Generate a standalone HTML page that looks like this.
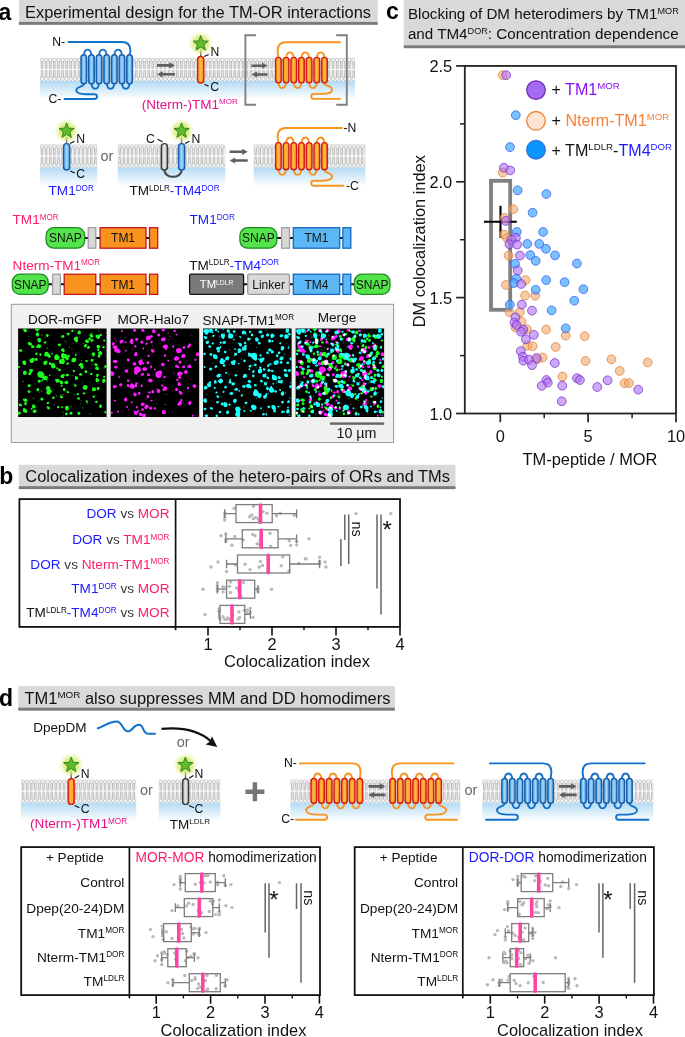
<!DOCTYPE html><html><head><meta charset="utf-8"><title>Figure</title>
<style>html,body{margin:0;padding:0;background:#fff}svg{display:block}text{font-family:'Liberation Sans', sans-serif}</style></head><body>
<svg width="685" height="1037" viewBox="0 0 685 1037">
<defs>
<pattern id="lip" x="0" y="0" width="4.1" height="23" patternUnits="userSpaceOnUse">
<rect width="4.1" height="23" fill="#fff"/>
<rect y="3.4" width="4.1" height="7.7" fill="#f1f1f1"/><rect y="11.9" width="4.1" height="7.7" fill="#f1f1f1"/>
<path d="M1.1 3.7 L1.6 11.0 M3.0 3.7 L2.5 11.0 M1.1 19.3 L1.6 12.0 M3.0 19.3 L2.5 12.0" stroke="#aaaaaa" stroke-width="0.75" fill="none"/>
<circle cx="2.05" cy="2.05" r="1.7" fill="#fff" stroke="#a2a2a2" stroke-width="0.6"/>
<circle cx="2.05" cy="20.95" r="1.7" fill="#fff" stroke="#a2a2a2" stroke-width="0.6"/>
</pattern>
<linearGradient id="cyt" x1="0" y1="0" x2="0" y2="1"><stop offset="0" stop-color="#b3daf4"/><stop offset="1" stop-color="#ffffff"/></linearGradient>
<linearGradient id="hB" x1="0" y1="0" x2="1" y2="0"><stop offset="0" stop-color="#3f9fe8"/><stop offset="0.5" stop-color="#a6d8fa"/><stop offset="1" stop-color="#3f9fe8"/></linearGradient>
<linearGradient id="hO" x1="0" y1="0" x2="1" y2="0"><stop offset="0" stop-color="#f78f1a"/><stop offset="0.5" stop-color="#feb945"/><stop offset="1" stop-color="#f78f1a"/></linearGradient>
<linearGradient id="hG" x1="0" y1="0" x2="1" y2="0"><stop offset="0" stop-color="#9a9a9a"/><stop offset="0.5" stop-color="#efefef"/><stop offset="1" stop-color="#9a9a9a"/></linearGradient>
<radialGradient id="glow"><stop offset="0" stop-color="#cfe65a" stop-opacity="1"/><stop offset="0.55" stop-color="#d9ec7c" stop-opacity="0.85"/><stop offset="1" stop-color="#e8f5a8" stop-opacity="0"/></radialGradient>
<filter id="bl" x="-10%" y="-10%" width="120%" height="120%"><feGaussianBlur stdDeviation="0.6"/></filter>
</defs>
<rect width="685" height="1037" fill="#fff"/>
<rect x="18.9" y="0" width="358.8" height="24.8" fill="#d9d9d9"/>
<rect x="18.9" y="21.900000000000002" width="358.8" height="2.9" fill="#7a7a7a"/>
<text x="-1.5" y="19.6" font-size="23" font-weight="bold" fill="#000">a</text>
<text x="25.1" y="18.0" font-size="16.4" text-anchor="start" font-weight="normal" fill="#111" ><tspan>Experimental design for the TM-OR interactions</tspan></text>
<rect x="40" y="80.7" width="315" height="19" fill="url(#cyt)"/>
<g transform="translate(40,57.9)"><rect x="0" y="0" width="315" height="23" fill="url(#lip)"/></g>
<path d="M68.5 42 H121.88000000000002 C127.4 42 130.4 44.5 130.4 50.5 C130.4 53.5 129.58 51.7 129.58 56.7 M83.8 81.7 V84.0 C83.8 87.0 76.2 86.1 76.2 90.2 C76.2 93.6 80.8 94.1 85.8 94.2 H94.4 C98.0 94.2 98.0 99.0 94.4 99.0 H64.5 M83.8 56.7 C83.8 47.3 91.43 47.3 91.43 56.7 M99.06 56.7 C99.06 47.3 106.69 47.3 106.69 56.7 M114.32 56.7 C114.32 47.3 121.95 47.3 121.95 56.7 M91.43 81.7 C91.43 91.1 99.06 91.1 99.06 81.7 M106.69 81.7 C106.69 91.1 114.32 91.1 114.32 81.7 M121.95 81.7 C121.95 91.1 129.58 91.1 129.58 81.7 " fill="none" stroke="#1172c9" stroke-width="1.9" stroke-linecap="round" stroke-linejoin="round"/>
<rect x="81.0" y="54.7" width="5.6" height="29.0" rx="2.8" ry="2.8" fill="url(#hB)" stroke="#1a5ca8" stroke-width="1.4"/>
<rect x="88.63000000000001" y="54.7" width="5.6" height="29.0" rx="2.8" ry="2.8" fill="url(#hB)" stroke="#1a5ca8" stroke-width="1.4"/>
<rect x="96.26" y="54.7" width="5.6" height="29.0" rx="2.8" ry="2.8" fill="url(#hB)" stroke="#1a5ca8" stroke-width="1.4"/>
<rect x="103.89" y="54.7" width="5.6" height="29.0" rx="2.8" ry="2.8" fill="url(#hB)" stroke="#1a5ca8" stroke-width="1.4"/>
<rect x="111.52" y="54.7" width="5.6" height="29.0" rx="2.8" ry="2.8" fill="url(#hB)" stroke="#1a5ca8" stroke-width="1.4"/>
<rect x="119.15" y="54.7" width="5.6" height="29.0" rx="2.8" ry="2.8" fill="url(#hB)" stroke="#1a5ca8" stroke-width="1.4"/>
<rect x="126.78000000000002" y="54.7" width="5.6" height="29.0" rx="2.8" ry="2.8" fill="url(#hB)" stroke="#1a5ca8" stroke-width="1.4"/>
<text x="52.3" y="46.0" font-size="12.2" text-anchor="start" font-weight="normal" fill="#111" ><tspan>N-</tspan></text>
<text x="48.4" y="103.0" font-size="12.2" text-anchor="start" font-weight="normal" fill="#111" ><tspan>C-</tspan></text>
<path d="M157 64.10000000000001 H169.4 V62.300000000000004 L175 65.4 L169.4 68.5 V66.7 H157 Z" fill="#5f5f5f"/>
<path d="M175 73.0 H162.6 V71.2 L157 74.3 L162.6 77.39999999999999 V75.6 H175 Z" fill="#5f5f5f"/>
<path d="M200.7 49 V58" stroke="#555" stroke-width="1.4"/>
<circle cx="200.7" cy="43.6" r="12.5" fill="url(#glow)"/>
<polygon points="200.70,35.60 202.67,40.88 208.31,41.13 203.90,44.64 205.40,50.07 200.70,46.96 196.00,50.07 197.50,44.64 193.09,41.13 198.73,40.88" fill="#63ba31" stroke="#237f16" stroke-width="0.9" stroke-linejoin="miter"/>
<rect x="197.6" y="56.5" width="6.2" height="26.5" rx="3.1" ry="3.1" fill="url(#hO)" stroke="#d41b12" stroke-width="1.4"/>
<path d="M204.2 56.6 L208.6 54.4 M204.4 84.2 L208.6 86.2" stroke="#111" stroke-width="1.1"/>
<text x="210.6" y="56.4" font-size="12.2" text-anchor="start" font-weight="normal" fill="#111" ><tspan>N</tspan></text>
<text x="210.2" y="91.4" font-size="12.2" text-anchor="start" font-weight="normal" fill="#111" ><tspan>C</tspan></text>
<text x="141.8" y="108.7" font-size="13.5" text-anchor="start" font-weight="normal" fill="#111" ><tspan fill="#e6108c">(Nterm-)TM1</tspan><tspan fill="#e6108c" font-size="8.1" dy="-4.46">MOR</tspan></text>
<path d="M256 35.2 H245.4 V104.8 H256" fill="none" stroke="#808080" stroke-width="1.9"/>
<path d="M336.2 35.2 H346.8 V104.8 H336.2" fill="none" stroke="#808080" stroke-width="1.9"/>
<path d="M251.5 64.4 H262.0 V62.6 L267.6 65.7 L262.0 68.8 V67.0 H251.5 Z" fill="#5f5f5f"/>
<path d="M267.6 73.2 H257.1 V71.4 L251.5 74.5 L257.1 77.6 V75.8 H267.6 Z" fill="#5f5f5f"/>
<path d="M340 42.3 H286.09999999999997 C280.6 42.3 277.6 44.8 277.6 50.8 C277.6 53.8 278.4 54.4 278.4 59.4 M324.48 80.9 V83.2 C324.48 86.4 332.1 85.4 332.1 89.7 C332.1 93.2 327.5 93.8 322.5 93.9 H313.9 C310.3 93.9 310.3 98.9 313.9 98.9 H340 M286.08 59.4 C286.08 50.0 293.76 50.0 293.76 59.4 M301.44 59.4 C301.44 50.0 309.12 50.0 309.12 59.4 M316.8 59.4 C316.8 50.0 324.48 50.0 324.48 59.4 M278.4 80.9 C278.4 90.3 286.08 90.3 286.08 80.9 M293.76 80.9 C293.76 90.3 301.44 90.3 301.44 80.9 M309.12 80.9 C309.12 90.3 316.8 90.3 316.8 80.9 " fill="none" stroke="#f7941d" stroke-width="1.9" stroke-linecap="round" stroke-linejoin="round"/>
<rect x="275.59999999999997" y="57.4" width="5.6" height="25.500000000000007" rx="2.8" ry="2.8" fill="url(#hO)" stroke="#d41b12" stroke-width="1.4"/>
<rect x="283.28" y="57.4" width="5.6" height="25.500000000000007" rx="2.8" ry="2.8" fill="url(#hO)" stroke="#d41b12" stroke-width="1.4"/>
<rect x="290.96" y="57.4" width="5.6" height="25.500000000000007" rx="2.8" ry="2.8" fill="url(#hO)" stroke="#d41b12" stroke-width="1.4"/>
<rect x="298.64" y="57.4" width="5.6" height="25.500000000000007" rx="2.8" ry="2.8" fill="url(#hO)" stroke="#d41b12" stroke-width="1.4"/>
<rect x="306.32" y="57.4" width="5.6" height="25.500000000000007" rx="2.8" ry="2.8" fill="url(#hO)" stroke="#d41b12" stroke-width="1.4"/>
<rect x="314.0" y="57.4" width="5.6" height="25.500000000000007" rx="2.8" ry="2.8" fill="url(#hO)" stroke="#d41b12" stroke-width="1.4"/>
<rect x="321.68" y="57.4" width="5.6" height="25.500000000000007" rx="2.8" ry="2.8" fill="url(#hO)" stroke="#d41b12" stroke-width="1.4"/>
<rect x="40" y="167.20000000000002" width="57.2" height="19" fill="url(#cyt)"/>
<g transform="translate(40,144.4)"><rect x="0" y="0" width="57.2" height="23" fill="url(#lip)"/></g>
<path d="M66.6 137 V145" stroke="#555" stroke-width="1.4"/>
<circle cx="66.6" cy="130.9" r="12.5" fill="url(#glow)"/>
<polygon points="66.60,122.90 68.57,128.18 74.21,128.43 69.80,131.94 71.30,137.37 66.60,134.26 61.90,137.37 63.40,131.94 58.99,128.43 64.63,128.18" fill="#63ba31" stroke="#237f16" stroke-width="0.9" stroke-linejoin="miter"/>
<rect x="63.49999999999999" y="143.6" width="6.2" height="26.400000000000006" rx="3.1" ry="3.1" fill="url(#hB)" stroke="#1a5ca8" stroke-width="1.4"/>
<path d="M70 143.5 L74.5 141.3 M70.2 171 L74.8 173" stroke="#111" stroke-width="1.1"/>
<text x="76.3" y="142.8" font-size="12.2" text-anchor="start" font-weight="normal" fill="#111" ><tspan>N</tspan></text>
<text x="76.3" y="177.8" font-size="12.2" text-anchor="start" font-weight="normal" fill="#111" ><tspan>C</tspan></text>
<text x="100.5" y="161" font-size="14.5" text-anchor="start" font-weight="normal" fill="#666" ><tspan>or</tspan></text>
<text x="48.6" y="195.2" font-size="13.55" text-anchor="start" font-weight="normal" fill="#111" ><tspan fill="#1a1aff">TM1</tspan><tspan fill="#1a1aff" font-size="8.13" dy="-4.47">DOR</tspan></text>
<rect x="117.7" y="167.20000000000002" width="107.60000000000001" height="19" fill="url(#cyt)"/>
<g transform="translate(117.7,144.4)"><rect x="0" y="0" width="107.60000000000001" height="23" fill="url(#lip)"/></g>
<path d="M164.4 168 V170 C164.4 179 181.6 179 181.6 170 V168" fill="none" stroke="#4a4a4a" stroke-width="2"/>
<path d="M181.6 137 V145" stroke="#555" stroke-width="1.4"/>
<circle cx="181.6" cy="130.9" r="12.5" fill="url(#glow)"/>
<polygon points="181.60,122.90 183.57,128.18 189.21,128.43 184.80,131.94 186.30,137.37 181.60,134.26 176.90,137.37 178.40,131.94 173.99,128.43 179.63,128.18" fill="#63ba31" stroke="#237f16" stroke-width="0.9" stroke-linejoin="miter"/>
<rect x="161.3" y="143.6" width="6.2" height="26.400000000000006" rx="3.1" ry="3.1" fill="url(#hG)" stroke="#3a3a3a" stroke-width="1.4"/>
<rect x="178.5" y="143.6" width="6.2" height="26.400000000000006" rx="3.1" ry="3.1" fill="url(#hB)" stroke="#1a5ca8" stroke-width="1.4"/>
<path d="M157.5 139.2 L162.6 141.8 M185 143.5 L189.5 141.3" stroke="#111" stroke-width="1.1"/>
<text x="146" y="142.8" font-size="12.2" text-anchor="start" font-weight="normal" fill="#111" ><tspan>C</tspan></text>
<text x="191.5" y="142.8" font-size="12.2" text-anchor="start" font-weight="normal" fill="#111" ><tspan>N</tspan></text>
<text x="129.5" y="195.2" font-size="13.55" text-anchor="start" font-weight="normal" fill="#111" ><tspan fill="#111">TM</tspan><tspan fill="#111" font-size="8.13" dy="-4.47">LDLR</tspan><tspan fill="#1a1aff" dy="4.47">-</tspan><tspan fill="#1a1aff">TM4</tspan><tspan fill="#1a1aff" font-size="8.13" dy="-4.47">DOR</tspan></text>
<path d="M229.6 150.5 H242.1 V148.70000000000002 L247.7 151.8 L242.1 154.9 V153.10000000000002 H229.6 Z" fill="#5f5f5f"/>
<path d="M247.7 159.2 H235.2 V157.4 L229.6 160.5 L235.2 163.6 V161.8 H247.7 Z" fill="#5f5f5f"/>
<rect x="253.6" y="167.20000000000002" width="111.79999999999998" height="19" fill="url(#cyt)"/>
<g transform="translate(253.6,144.4)"><rect x="0" y="0" width="111.79999999999998" height="23" fill="url(#lip)"/></g>
<path d="M342 128 H286.09999999999997 C280.6 128 277.6 130.6 277.6 136.5 C277.6 139.5 278.4 139.6 278.4 144.6 M324.48 167.8 V170.10000000000002 C324.48 173.3 332.1 172.3 332.1 176.6 C332.1 180.1 327.5 180.7 322.5 180.8 H313.9 C310.3 180.8 310.3 185.8 313.9 185.8 H343.5 M286.08 144.6 C286.08 135.2 293.76 135.2 293.76 144.6 M301.44 144.6 C301.44 135.2 309.12 135.2 309.12 144.6 M316.8 144.6 C316.8 135.2 324.48 135.2 324.48 144.6 M278.4 167.8 C278.4 177.2 286.08 177.2 286.08 167.8 M293.76 167.8 C293.76 177.2 301.44 177.2 301.44 167.8 M309.12 167.8 C309.12 177.2 316.8 177.2 316.8 167.8 " fill="none" stroke="#f7941d" stroke-width="1.9" stroke-linecap="round" stroke-linejoin="round"/>
<rect x="275.59999999999997" y="142.6" width="5.6" height="27.200000000000017" rx="2.8" ry="2.8" fill="url(#hO)" stroke="#d41b12" stroke-width="1.4"/>
<rect x="283.28" y="142.6" width="5.6" height="27.200000000000017" rx="2.8" ry="2.8" fill="url(#hO)" stroke="#d41b12" stroke-width="1.4"/>
<rect x="290.96" y="142.6" width="5.6" height="27.200000000000017" rx="2.8" ry="2.8" fill="url(#hO)" stroke="#d41b12" stroke-width="1.4"/>
<rect x="298.64" y="142.6" width="5.6" height="27.200000000000017" rx="2.8" ry="2.8" fill="url(#hO)" stroke="#d41b12" stroke-width="1.4"/>
<rect x="306.32" y="142.6" width="5.6" height="27.200000000000017" rx="2.8" ry="2.8" fill="url(#hO)" stroke="#d41b12" stroke-width="1.4"/>
<rect x="314.0" y="142.6" width="5.6" height="27.200000000000017" rx="2.8" ry="2.8" fill="url(#hO)" stroke="#d41b12" stroke-width="1.4"/>
<rect x="321.68" y="142.6" width="5.6" height="27.200000000000017" rx="2.8" ry="2.8" fill="url(#hO)" stroke="#d41b12" stroke-width="1.4"/>
<text x="343.5" y="132" font-size="12.2" text-anchor="start" font-weight="normal" fill="#111" ><tspan>-N</tspan></text>
<text x="346" y="189.6" font-size="12.2" text-anchor="start" font-weight="normal" fill="#111" ><tspan>-C</tspan></text>
<text x="12.6" y="224.0" font-size="13.55" text-anchor="start" font-weight="normal" fill="#111" ><tspan fill="#ff1a6c">TM1</tspan><tspan fill="#ff1a6c" font-size="8.13" dy="-4.47">MOR</tspan></text>
<path d="M84 238 H101" stroke="#111" stroke-width="2"/>
<path d="M145 238 H150" stroke="#111" stroke-width="2"/>
<rect x="46.1" y="227.7" width="38.6" height="20.5" rx="7.8" fill="#52e44a" stroke="#1f8a1f" stroke-width="1.3"/>
<text x="65.4" y="242.26999999999998" font-size="12" text-anchor="middle" font-weight="normal" fill="#111" ><tspan>SNAP</tspan></text>
<rect x="88.2" y="227.7" width="7.599999999999994" height="20.5" rx="0" fill="#d8d8d8" stroke="#a0a0a0" stroke-width="1.3"/>
<rect x="100.1" y="227.7" width="45.900000000000006" height="20.5" rx="0" fill="#f7931e" stroke="#c4161c" stroke-width="1.3"/>
<text x="123.05" y="242.26999999999998" font-size="12" text-anchor="middle" font-weight="normal" fill="#111" ><tspan>TM1</tspan></text>
<rect x="149.5" y="227.7" width="8.199999999999989" height="20.5" rx="0" fill="#f7931e" stroke="#c4161c" stroke-width="1.3"/>
<text x="12.6" y="269.9" font-size="13.55" text-anchor="start" font-weight="normal" fill="#111" ><tspan fill="#ff1a6c">Nterm-TM1</tspan><tspan fill="#ff1a6c" font-size="8.13" dy="-4.47">MOR</tspan></text>
<path d="M48 284.3 H101" stroke="#111" stroke-width="2"/>
<path d="M145 284.3 H150" stroke="#111" stroke-width="2"/>
<rect x="12.3" y="274.2" width="35.900000000000006" height="20.19999999999999" rx="7.8" fill="#52e44a" stroke="#1f8a1f" stroke-width="1.3"/>
<text x="30.25" y="288.61999999999995" font-size="12" text-anchor="middle" font-weight="normal" fill="#111" ><tspan>SNAP</tspan></text>
<rect x="52.6" y="274.2" width="7.799999999999997" height="20.19999999999999" rx="0" fill="#d8d8d8" stroke="#a0a0a0" stroke-width="1.3"/>
<rect x="64.2" y="274.2" width="31.599999999999994" height="20.19999999999999" rx="0" fill="#f7931e" stroke="#c4161c" stroke-width="1.3"/>
<rect x="100.1" y="274.2" width="45.900000000000006" height="20.19999999999999" rx="0" fill="#f7931e" stroke="#c4161c" stroke-width="1.3"/>
<text x="123.05" y="288.61999999999995" font-size="12" text-anchor="middle" font-weight="normal" fill="#111" ><tspan>TM1</tspan></text>
<rect x="149.5" y="274.2" width="8.199999999999989" height="20.19999999999999" rx="0" fill="#f7931e" stroke="#c4161c" stroke-width="1.3"/>
<text x="189.6" y="224.0" font-size="13.55" text-anchor="start" font-weight="normal" fill="#111" ><tspan fill="#1a1aff">TM1</tspan><tspan fill="#1a1aff" font-size="8.13" dy="-4.47">DOR</tspan></text>
<path d="M276 238 H294" stroke="#111" stroke-width="2"/>
<path d="M339 238 H343.5" stroke="#111" stroke-width="2"/>
<rect x="239.9" y="227.7" width="36.99999999999997" height="20.5" rx="7.8" fill="#52e44a" stroke="#1f8a1f" stroke-width="1.3"/>
<text x="258.4" y="242.26999999999998" font-size="12" text-anchor="middle" font-weight="normal" fill="#111" ><tspan>SNAP</tspan></text>
<rect x="281.6" y="227.7" width="7.899999999999977" height="20.5" rx="0" fill="#d8d8d8" stroke="#a0a0a0" stroke-width="1.3"/>
<rect x="293.3" y="227.7" width="46.39999999999998" height="20.5" rx="0" fill="#5cb8f4" stroke="#1668c0" stroke-width="1.3"/>
<text x="316.5" y="242.26999999999998" font-size="12" text-anchor="middle" font-weight="normal" fill="#111" ><tspan>TM1</tspan></text>
<rect x="342.9" y="227.7" width="7.900000000000034" height="20.5" rx="0" fill="#5cb8f4" stroke="#1668c0" stroke-width="1.3"/>
<text x="189.2" y="269.9" font-size="13.55" text-anchor="start" font-weight="normal" fill="#111" ><tspan fill="#111">TM</tspan><tspan fill="#111" font-size="8.13" dy="-4.47">LDLR</tspan><tspan fill="#1a1aff" dy="4.47">-</tspan><tspan fill="#1a1aff">TM4</tspan><tspan fill="#1a1aff" font-size="8.13" dy="-4.47">DOR</tspan></text>
<path d="M243 284.3 H355" stroke="#111" stroke-width="2"/>
<rect x="189.6" y="274.2" width="54.0" height="20.19999999999999" rx="1.5" fill="#7a7a7a" stroke="#111" stroke-width="1.3"/>
<text x="216.6" y="288.36799999999994" font-size="11.3" text-anchor="middle" font-weight="normal" fill="#fff" ><tspan fill="#fff">TM</tspan><tspan fill="#fff" font-size="6.78" dy="-3.73">LDLR</tspan></text>
<rect x="247.7" y="274.2" width="41.80000000000001" height="20.19999999999999" rx="1.5" fill="#d9d9d9" stroke="#999" stroke-width="1.3"/>
<text x="268.6" y="288.61999999999995" font-size="12" text-anchor="middle" font-weight="normal" fill="#111" ><tspan>Linker</tspan></text>
<rect x="293.3" y="274.2" width="46.39999999999998" height="20.19999999999999" rx="0" fill="#5cb8f4" stroke="#1668c0" stroke-width="1.3"/>
<text x="316.5" y="288.61999999999995" font-size="12" text-anchor="middle" font-weight="normal" fill="#111" ><tspan>TM4</tspan></text>
<rect x="342.9" y="274.2" width="7.900000000000034" height="20.19999999999999" rx="0" fill="#5cb8f4" stroke="#1668c0" stroke-width="1.3"/>
<rect x="354.3" y="274.2" width="35.69999999999999" height="20.19999999999999" rx="7.8" fill="#52e44a" stroke="#1f8a1f" stroke-width="1.3"/>
<text x="372.15" y="288.61999999999995" font-size="12" text-anchor="middle" font-weight="normal" fill="#111" ><tspan>SNAP</tspan></text>
<rect x="11.3" y="304.3" width="382.3" height="138.2" fill="#f0f0f0" stroke="#9a9a9a" stroke-width="1"/>
<text x="64.9" y="324.3" font-size="13.6" text-anchor="middle" font-weight="normal" fill="#111" ><tspan>DOR-mGFP</tspan></text>
<text x="153.3" y="324.3" font-size="13.6" text-anchor="middle" font-weight="normal" fill="#111" ><tspan>MOR-Halo7</tspan></text>
<text x="202.5" y="324.5" font-size="13.6" text-anchor="start" font-weight="normal" fill="#111" ><tspan fill="#111">SNAPf-TM1</tspan><tspan fill="#111" font-size="8.16" dy="-4.49">MOR</tspan></text>
<text x="337" y="321.8" font-size="13.6" text-anchor="middle" font-weight="normal" fill="#111" ><tspan>Merge</tspan></text>
<rect x="330" y="422.4" width="54.2" height="2.4" fill="#666"/>
<text x="356.5" y="438" font-size="14.3" text-anchor="middle" font-weight="normal" fill="#111" ><tspan>10 µm</tspan></text>
<rect x="18.1" y="328.5" width="88.5" height="88.5" fill="#000"/>
<rect x="110.7" y="328.5" width="88.5" height="88.5" fill="#000"/>
<rect x="203.1" y="328.5" width="88.5" height="88.5" fill="#000"/>
<rect x="295.6" y="328.5" width="88.5" height="88.5" fill="#000"/>
<defs><g id="bG" fill="#1dff1d" filter="url(#bl)"><circle cx="6.8" cy="1.5" r="1.71"/><circle cx="7.8" cy="2.6" r="1.10"/><circle cx="6.7" cy="2.8" r="0.96"/><circle cx="19.0" cy="0.7" r="1.71"/><circle cx="18.1" cy="-0.5" r="0.81"/><circle cx="20.5" cy="0.9" r="0.95"/><circle cx="54.3" cy="2.4" r="1.14"/><circle cx="54.4" cy="1.8" r="0.64"/><circle cx="61.1" cy="4.2" r="1.71"/><circle cx="60.9" cy="3.1" r="1.17"/><circle cx="61.9" cy="3.7" r="0.78"/><circle cx="50.2" cy="5.6" r="1.43"/><circle cx="49.0" cy="5.2" r="0.78"/><circle cx="19.3" cy="5.8" r="1.71"/><circle cx="19.5" cy="7.0" r="0.78"/><circle cx="19.5" cy="7.1" r="0.98"/><circle cx="29.2" cy="6.9" r="1.43"/><circle cx="29.3" cy="7.8" r="0.72"/><circle cx="44.8" cy="7.9" r="1.43"/><circle cx="43.9" cy="8.1" r="0.65"/><circle cx="57.7" cy="10.6" r="2.14"/><circle cx="58.6" cy="9.2" r="1.31"/><circle cx="58.5" cy="12.5" r="1.42"/><circle cx="73.3" cy="7.2" r="1.71"/><circle cx="74.2" cy="8.0" r="1.08"/><circle cx="72.9" cy="5.7" r="0.95"/><circle cx="80.1" cy="8.6" r="2.00"/><circle cx="80.9" cy="7.1" r="1.05"/><circle cx="78.6" cy="7.6" r="1.32"/><circle cx="82.8" cy="6.5" r="1.14"/><circle cx="81.9" cy="6.5" r="0.52"/><circle cx="21.0" cy="11.3" r="1.85"/><circle cx="21.1" cy="12.9" r="1.03"/><circle cx="21.7" cy="12.5" r="1.16"/><circle cx="69.2" cy="12.9" r="1.71"/><circle cx="68.7" cy="11.8" r="0.96"/><circle cx="67.8" cy="12.8" r="0.99"/><circle cx="74.0" cy="11.9" r="1.43"/><circle cx="73.2" cy="12.6" r="0.65"/><circle cx="11.5" cy="15.3" r="1.71"/><circle cx="12.9" cy="15.7" r="1.19"/><circle cx="10.5" cy="14.7" r="0.84"/><circle cx="27.2" cy="14.0" r="1.14"/><circle cx="26.1" cy="14.0" r="0.73"/><circle cx="41.4" cy="16.4" r="1.43"/><circle cx="40.2" cy="16.1" r="0.72"/><circle cx="14.9" cy="18.3" r="1.43"/><circle cx="13.6" cy="18.2" r="0.85"/><circle cx="20.8" cy="17.8" r="2.00"/><circle cx="19.5" cy="18.1" r="1.17"/><circle cx="21.8" cy="17.5" r="1.29"/><circle cx="67.2" cy="17.4" r="1.43"/><circle cx="67.8" cy="16.2" r="0.91"/><circle cx="70.3" cy="19.1" r="1.43"/><circle cx="70.7" cy="18.1" r="0.84"/><circle cx="80.5" cy="18.1" r="1.71"/><circle cx="79.6" cy="18.5" r="1.14"/><circle cx="79.5" cy="17.6" r="0.99"/><circle cx="85.5" cy="18.7" r="1.14"/><circle cx="84.7" cy="18.8" r="0.61"/><circle cx="2.7" cy="22.1" r="1.43"/><circle cx="1.6" cy="21.9" r="0.86"/><circle cx="44.8" cy="21.4" r="1.71"/><circle cx="43.9" cy="21.7" r="0.87"/><circle cx="45.4" cy="22.7" r="1.14"/><circle cx="80.1" cy="21.4" r="1.14"/><circle cx="80.4" cy="20.5" r="0.75"/><circle cx="75.3" cy="25.5" r="1.71"/><circle cx="75.3" cy="27.0" r="1.06"/><circle cx="76.2" cy="26.0" r="0.78"/><circle cx="82.1" cy="24.8" r="2.00"/><circle cx="82.2" cy="23.5" r="0.95"/><circle cx="81.2" cy="23.9" r="0.93"/><circle cx="80.8" cy="27.6" r="1.43"/><circle cx="81.4" cy="28.5" r="0.70"/><circle cx="22.4" cy="25.9" r="1.14"/><circle cx="22.3" cy="26.9" r="0.64"/><circle cx="28.5" cy="25.5" r="2.28"/><circle cx="27.8" cy="27.0" r="1.04"/><circle cx="27.3" cy="26.6" r="1.13"/><circle cx="30.5" cy="26.9" r="1.71"/><circle cx="31.8" cy="27.9" r="0.99"/><circle cx="30.9" cy="28.2" r="1.12"/><circle cx="38.7" cy="28.9" r="2.57"/><circle cx="40.1" cy="29.1" r="1.25"/><circle cx="38.4" cy="27.4" r="1.61"/><circle cx="45.5" cy="27.6" r="2.57"/><circle cx="44.6" cy="25.8" r="1.30"/><circle cx="47.7" cy="27.2" r="1.49"/><circle cx="48.9" cy="29.2" r="2.00"/><circle cx="49.1" cy="30.8" r="1.10"/><circle cx="47.7" cy="28.6" r="1.21"/><circle cx="43.4" cy="33.0" r="2.57"/><circle cx="45.0" cy="33.6" r="1.78"/><circle cx="44.7" cy="31.8" r="1.71"/><circle cx="57.7" cy="26.2" r="0.90"/><circle cx="57.4" cy="27.0" r="0.57"/><circle cx="55.7" cy="31.6" r="2.28"/><circle cx="54.4" cy="32.4" r="1.03"/><circle cx="56.6" cy="30.7" r="1.49"/><circle cx="13.6" cy="32.3" r="2.28"/><circle cx="15.3" cy="31.9" r="1.12"/><circle cx="15.0" cy="30.7" r="1.43"/><circle cx="18.3" cy="31.0" r="1.43"/><circle cx="17.3" cy="30.9" r="0.77"/><circle cx="6.1" cy="34.1" r="2.00"/><circle cx="6.6" cy="35.6" r="1.11"/><circle cx="6.5" cy="35.2" r="1.23"/><circle cx="27.2" cy="34.3" r="2.00"/><circle cx="26.7" cy="35.8" r="1.06"/><circle cx="28.4" cy="33.0" r="0.91"/><circle cx="31.9" cy="35.0" r="1.14"/><circle cx="32.1" cy="35.8" r="0.79"/><circle cx="35.3" cy="37.7" r="2.28"/><circle cx="35.6" cy="36.2" r="1.15"/><circle cx="34.4" cy="35.9" r="1.56"/><circle cx="49.6" cy="35.0" r="1.14"/><circle cx="49.0" cy="35.9" r="0.71"/><circle cx="63.1" cy="36.4" r="2.00"/><circle cx="61.3" cy="36.6" r="1.02"/><circle cx="62.9" cy="35.2" r="0.98"/><circle cx="63.8" cy="39.1" r="1.43"/><circle cx="64.6" cy="38.6" r="0.91"/><circle cx="68.6" cy="32.7" r="1.14"/><circle cx="67.7" cy="32.1" r="0.62"/><circle cx="74.0" cy="31.6" r="1.43"/><circle cx="73.5" cy="32.4" r="0.95"/><circle cx="78.1" cy="36.4" r="1.43"/><circle cx="77.0" cy="35.6" r="0.96"/><circle cx="78.7" cy="39.8" r="1.71"/><circle cx="79.6" cy="40.8" r="0.81"/><circle cx="79.7" cy="40.0" r="1.14"/><circle cx="87.6" cy="38.1" r="1.43"/><circle cx="87.9" cy="36.9" r="0.76"/><circle cx="0.7" cy="38.4" r="1.14"/><circle cx="-0.1" cy="37.8" r="0.62"/><circle cx="41.4" cy="41.4" r="1.43"/><circle cx="40.6" cy="41.0" r="0.67"/><circle cx="12.9" cy="42.2" r="1.71"/><circle cx="12.7" cy="43.8" r="1.01"/><circle cx="14.0" cy="41.7" r="0.89"/><circle cx="6.8" cy="44.5" r="2.00"/><circle cx="7.2" cy="42.8" r="0.90"/><circle cx="6.2" cy="43.5" r="0.96"/><circle cx="11.5" cy="45.2" r="1.43"/><circle cx="12.1" cy="44.7" r="0.73"/><circle cx="22.4" cy="45.9" r="3.14"/><circle cx="24.6" cy="45.7" r="1.50"/><circle cx="23.4" cy="47.6" r="1.99"/><circle cx="26.5" cy="49.3" r="2.28"/><circle cx="28.1" cy="50.5" r="1.24"/><circle cx="28.5" cy="48.9" r="1.19"/><circle cx="55.7" cy="42.5" r="1.14"/><circle cx="55.6" cy="43.3" r="0.54"/><circle cx="67.9" cy="43.2" r="1.43"/><circle cx="67.4" cy="42.5" r="0.65"/><circle cx="62.4" cy="45.9" r="1.43"/><circle cx="63.4" cy="45.8" r="0.85"/><circle cx="73.3" cy="45.5" r="1.14"/><circle cx="72.6" cy="45.7" r="0.53"/><circle cx="44.1" cy="47.7" r="1.71"/><circle cx="45.5" cy="46.8" r="1.18"/><circle cx="45.0" cy="48.4" r="1.03"/><circle cx="48.9" cy="46.6" r="1.43"/><circle cx="50.0" cy="46.4" r="0.89"/><circle cx="58.4" cy="49.6" r="1.71"/><circle cx="57.8" cy="48.6" r="1.00"/><circle cx="58.0" cy="50.6" r="0.80"/><circle cx="79.4" cy="46.6" r="1.43"/><circle cx="79.2" cy="47.9" r="0.80"/><circle cx="79.4" cy="51.7" r="1.71"/><circle cx="78.6" cy="50.6" r="1.17"/><circle cx="78.5" cy="52.5" r="0.91"/><circle cx="85.9" cy="52.0" r="1.71"/><circle cx="85.3" cy="53.4" r="1.15"/><circle cx="85.6" cy="53.1" r="1.00"/><circle cx="39.4" cy="52.3" r="2.00"/><circle cx="38.0" cy="51.5" r="1.02"/><circle cx="40.7" cy="52.4" r="0.93"/><circle cx="43.4" cy="54.0" r="1.71"/><circle cx="42.5" cy="53.7" r="0.80"/><circle cx="42.7" cy="53.2" r="1.11"/><circle cx="48.5" cy="54.0" r="1.71"/><circle cx="46.9" cy="54.1" r="0.84"/><circle cx="47.0" cy="54.0" r="0.80"/><circle cx="21.0" cy="52.7" r="1.43"/><circle cx="21.9" cy="52.4" r="0.92"/><circle cx="10.9" cy="57.2" r="1.43"/><circle cx="12.1" cy="57.0" r="0.76"/><circle cx="29.9" cy="59.5" r="2.00"/><circle cx="31.0" cy="60.4" r="1.36"/><circle cx="29.4" cy="61.2" r="0.97"/><circle cx="19.7" cy="61.2" r="1.43"/><circle cx="20.4" cy="60.8" r="0.75"/><circle cx="30.5" cy="63.9" r="2.28"/><circle cx="32.2" cy="62.8" r="1.54"/><circle cx="31.6" cy="62.3" r="1.42"/><circle cx="10.9" cy="63.1" r="1.43"/><circle cx="11.3" cy="64.1" r="0.70"/><circle cx="46.2" cy="61.2" r="1.43"/><circle cx="45.9" cy="60.1" r="0.73"/><circle cx="49.6" cy="63.5" r="1.14"/><circle cx="50.5" cy="64.0" r="0.74"/><circle cx="57.4" cy="57.2" r="1.14"/><circle cx="56.6" cy="56.9" r="0.76"/><circle cx="67.2" cy="58.8" r="2.28"/><circle cx="65.7" cy="59.3" r="1.22"/><circle cx="67.1" cy="60.1" r="1.39"/><circle cx="76.0" cy="60.8" r="2.00"/><circle cx="74.7" cy="61.6" r="0.93"/><circle cx="75.3" cy="61.8" r="0.96"/><circle cx="80.1" cy="59.9" r="1.43"/><circle cx="80.0" cy="61.1" r="0.78"/><circle cx="59.7" cy="65.6" r="1.14"/><circle cx="59.0" cy="66.1" r="0.58"/><circle cx="65.8" cy="64.9" r="1.14"/><circle cx="66.7" cy="64.9" r="0.66"/><circle cx="43.4" cy="68.6" r="1.43"/><circle cx="42.8" cy="67.7" r="0.89"/><circle cx="23.8" cy="70.7" r="1.43"/><circle cx="23.7" cy="69.8" r="0.82"/><circle cx="7.5" cy="71.7" r="1.71"/><circle cx="6.4" cy="71.8" r="0.95"/><circle cx="6.0" cy="71.1" r="1.16"/><circle cx="7.5" cy="75.1" r="1.43"/><circle cx="7.3" cy="76.2" r="0.66"/><circle cx="2.0" cy="76.4" r="1.43"/><circle cx="3.0" cy="76.9" r="0.95"/><circle cx="15.6" cy="77.5" r="1.71"/><circle cx="16.4" cy="78.8" r="1.15"/><circle cx="15.1" cy="78.8" r="1.13"/><circle cx="29.9" cy="74.4" r="1.14"/><circle cx="29.2" cy="75.1" r="0.72"/><circle cx="30.5" cy="79.6" r="1.43"/><circle cx="29.5" cy="78.8" r="0.96"/><circle cx="40.0" cy="78.7" r="1.14"/><circle cx="40.9" cy="78.5" r="0.56"/><circle cx="48.9" cy="79.6" r="2.00"/><circle cx="48.9" cy="80.8" r="1.18"/><circle cx="48.9" cy="78.4" r="1.24"/><circle cx="44.1" cy="78.9" r="0.90"/><circle cx="44.0" cy="78.3" r="0.52"/><circle cx="68.6" cy="72.8" r="1.14"/><circle cx="69.0" cy="73.6" r="0.52"/><circle cx="78.1" cy="73.4" r="1.14"/><circle cx="79.1" cy="73.3" r="0.69"/><circle cx="82.4" cy="77.5" r="1.43"/><circle cx="82.3" cy="78.8" r="0.98"/><circle cx="6.8" cy="81.9" r="2.00"/><circle cx="7.9" cy="83.2" r="1.32"/><circle cx="5.9" cy="80.5" r="1.12"/><circle cx="16.3" cy="82.9" r="1.71"/><circle cx="17.7" cy="82.2" r="0.93"/><circle cx="16.7" cy="81.8" r="0.84"/><circle cx="0.7" cy="84.6" r="1.71"/><circle cx="0.2" cy="85.5" r="1.16"/><circle cx="1.7" cy="84.3" r="1.03"/><circle cx="52.9" cy="84.8" r="1.43"/><circle cx="52.2" cy="85.3" r="0.75"/><circle cx="60.7" cy="84.8" r="1.43"/><circle cx="60.7" cy="86.1" r="0.64"/><circle cx="13.6" cy="80.2" r="0.90"/><circle cx="13.8" cy="80.8" r="0.41"/><circle cx="87.6" cy="83.9" r="1.14"/><circle cx="86.9" cy="83.3" r="0.75"/><circle cx="18.3" cy="25.2" r="1.18"/><circle cx="24.2" cy="51.8" r="0.98"/><circle cx="60.5" cy="70.0" r="1.37"/><circle cx="86.2" cy="48.3" r="1.14"/><circle cx="75.7" cy="68.1" r="1.20"/><circle cx="33.9" cy="25.1" r="0.88"/><circle cx="71.5" cy="10.4" r="1.32"/><circle cx="48.3" cy="85.4" r="1.33"/><circle cx="86.2" cy="12.1" r="1.15"/><circle cx="50.7" cy="27.5" r="1.15"/><circle cx="31.6" cy="46.8" r="0.80"/><circle cx="39.1" cy="39.8" r="1.01"/><circle cx="35.3" cy="69.3" r="1.28"/><circle cx="43.6" cy="57.3" r="1.06"/><circle cx="18.0" cy="0.3" r="0.99"/><circle cx="52.9" cy="78.0" r="0.83" opacity="0.45"/><circle cx="45.2" cy="87.4" r="0.68" opacity="0.45"/><circle cx="73.9" cy="36.2" r="0.80" opacity="0.45"/><circle cx="87.4" cy="27.0" r="0.57" opacity="0.45"/><circle cx="54.9" cy="47.0" r="0.64" opacity="0.45"/><circle cx="0.3" cy="34.4" r="0.67" opacity="0.45"/><circle cx="35.9" cy="76.2" r="0.73" opacity="0.45"/><circle cx="64.9" cy="79.5" r="0.80" opacity="0.45"/><circle cx="43.6" cy="66.0" r="0.76" opacity="0.45"/><circle cx="57.4" cy="55.7" r="0.66" opacity="0.45"/><circle cx="55.7" cy="56.1" r="0.87" opacity="0.45"/><circle cx="69.2" cy="74.9" r="0.81" opacity="0.45"/><circle cx="72.2" cy="53.6" r="0.64" opacity="0.45"/><circle cx="23.4" cy="62.7" r="0.85" opacity="0.45"/><circle cx="48.2" cy="13.5" r="0.83" opacity="0.45"/><circle cx="42.9" cy="41.3" r="0.52" opacity="0.45"/><circle cx="45.2" cy="65.9" r="0.67" opacity="0.45"/><circle cx="31.4" cy="58.1" r="0.51" opacity="0.45"/><circle cx="44.9" cy="83.7" r="0.78" opacity="0.45"/><circle cx="35.6" cy="61.0" r="0.74" opacity="0.45"/><circle cx="18.5" cy="18.4" r="0.85" opacity="0.45"/><circle cx="23.8" cy="6.6" r="0.83" opacity="0.45"/><circle cx="46.3" cy="32.6" r="0.70" opacity="0.45"/><circle cx="65.2" cy="14.9" r="0.76" opacity="0.45"/><circle cx="63.1" cy="72.1" r="0.61" opacity="0.45"/><circle cx="54.0" cy="20.5" r="0.72" opacity="0.45"/><circle cx="15.3" cy="69.9" r="0.85" opacity="0.45"/><circle cx="29.2" cy="19.7" r="0.89" opacity="0.45"/><circle cx="62.5" cy="74.7" r="0.51" opacity="0.45"/><circle cx="79.6" cy="55.1" r="0.63" opacity="0.45"/><circle cx="38.2" cy="67.4" r="0.81" opacity="0.45"/><circle cx="16.8" cy="55.4" r="0.57" opacity="0.45"/><circle cx="86.1" cy="39.3" r="0.87" opacity="0.45"/><circle cx="64.4" cy="53.7" r="0.60" opacity="0.45"/><circle cx="46.6" cy="12.3" r="0.56" opacity="0.45"/><circle cx="63.3" cy="32.0" r="0.80" opacity="0.45"/><circle cx="21.3" cy="63.6" r="0.79" opacity="0.45"/><circle cx="27.0" cy="9.4" r="0.66" opacity="0.45"/><circle cx="43.6" cy="8.8" r="0.57" opacity="0.45"/><circle cx="4.9" cy="52.9" r="0.86" opacity="0.45"/><circle cx="19.2" cy="3.1" r="0.78" opacity="0.45"/><circle cx="72.1" cy="85.3" r="0.75" opacity="0.45"/><circle cx="30.3" cy="74.2" r="0.55" opacity="0.45"/><circle cx="61.3" cy="8.4" r="0.66" opacity="0.45"/><circle cx="43.8" cy="33.4" r="0.57" opacity="0.45"/><circle cx="20.5" cy="72.6" r="0.69" opacity="0.45"/><circle cx="51.3" cy="18.8" r="0.79" opacity="0.45"/><circle cx="29.2" cy="52.5" r="0.86" opacity="0.45"/><circle cx="88.0" cy="4.1" r="0.82" opacity="0.45"/><circle cx="75.9" cy="28.3" r="0.65" opacity="0.45"/><circle cx="51.4" cy="81.3" r="0.66" opacity="0.45"/><circle cx="77.9" cy="67.1" r="0.56" opacity="0.45"/><circle cx="80.9" cy="1.3" r="0.56" opacity="0.45"/><circle cx="58.8" cy="5.1" r="0.65" opacity="0.45"/><circle cx="11.5" cy="41.0" r="0.84" opacity="0.45"/><circle cx="80.2" cy="3.1" r="0.52" opacity="0.45"/><circle cx="74.4" cy="3.8" r="0.61" opacity="0.45"/><circle cx="10.4" cy="8.1" r="0.51" opacity="0.45"/><circle cx="56.4" cy="65.9" r="0.77" opacity="0.45"/><circle cx="74.8" cy="58.7" r="0.66" opacity="0.45"/></g><g id="bM" fill="#ff1dff" filter="url(#bl)"><circle cx="23.8" cy="2.0" r="1.43"/><circle cx="25.0" cy="1.7" r="0.66"/><circle cx="31.9" cy="1.8" r="1.43"/><circle cx="33.0" cy="2.4" r="0.90"/><circle cx="43.4" cy="2.9" r="1.71"/><circle cx="42.9" cy="1.8" r="1.03"/><circle cx="42.4" cy="2.0" r="0.84"/><circle cx="52.7" cy="1.5" r="1.43"/><circle cx="51.8" cy="1.9" r="0.90"/><circle cx="63.8" cy="2.4" r="1.14"/><circle cx="64.9" cy="2.4" r="0.67"/><circle cx="48.2" cy="6.5" r="1.43"/><circle cx="47.3" cy="6.8" r="0.65"/><circle cx="65.8" cy="6.1" r="0.90"/><circle cx="66.5" cy="6.2" r="0.48"/><circle cx="38.0" cy="9.2" r="2.28"/><circle cx="36.5" cy="10.6" r="1.33"/><circle cx="36.6" cy="8.7" r="1.04"/><circle cx="40.7" cy="7.9" r="1.43"/><circle cx="40.3" cy="8.6" r="0.82"/><circle cx="52.3" cy="11.0" r="2.00"/><circle cx="53.9" cy="11.0" r="0.99"/><circle cx="53.6" cy="9.9" r="1.26"/><circle cx="25.8" cy="11.0" r="1.43"/><circle cx="26.8" cy="10.3" r="0.92"/><circle cx="21.0" cy="11.9" r="1.71"/><circle cx="20.1" cy="13.2" r="1.18"/><circle cx="21.8" cy="13.2" r="1.08"/><circle cx="21.4" cy="14.7" r="1.14"/><circle cx="20.6" cy="14.9" r="0.65"/><circle cx="10.9" cy="12.9" r="1.71"/><circle cx="12.0" cy="12.3" r="1.13"/><circle cx="9.9" cy="14.1" r="1.15"/><circle cx="14.9" cy="13.7" r="0.90"/><circle cx="14.3" cy="13.9" r="0.61"/><circle cx="31.2" cy="13.7" r="1.43"/><circle cx="31.1" cy="12.7" r="0.72"/><circle cx="36.0" cy="15.1" r="1.14"/><circle cx="35.5" cy="15.9" r="0.56"/><circle cx="40.7" cy="13.7" r="1.14"/><circle cx="41.4" cy="13.3" r="0.77"/><circle cx="2.7" cy="15.1" r="1.43"/><circle cx="2.2" cy="16.3" r="0.89"/><circle cx="4.8" cy="18.7" r="2.00"/><circle cx="3.2" cy="18.7" r="1.22"/><circle cx="3.6" cy="18.0" r="1.00"/><circle cx="6.8" cy="22.1" r="2.28"/><circle cx="4.7" cy="22.0" r="1.38"/><circle cx="8.6" cy="23.0" r="1.44"/><circle cx="14.9" cy="22.1" r="0.90"/><circle cx="15.4" cy="21.8" r="0.57"/><circle cx="24.4" cy="17.8" r="1.14"/><circle cx="25.3" cy="18.1" r="0.59"/><circle cx="55.0" cy="18.3" r="2.28"/><circle cx="55.3" cy="20.4" r="1.09"/><circle cx="53.0" cy="18.0" r="1.17"/><circle cx="62.4" cy="17.8" r="1.14"/><circle cx="62.7" cy="18.8" r="0.63"/><circle cx="73.3" cy="19.1" r="1.43"/><circle cx="73.1" cy="18.4" r="0.77"/><circle cx="77.7" cy="18.1" r="1.43"/><circle cx="78.2" cy="19.1" r="0.67"/><circle cx="67.9" cy="22.1" r="2.57"/><circle cx="69.3" cy="21.7" r="1.62"/><circle cx="69.5" cy="22.4" r="1.68"/><circle cx="86.9" cy="25.5" r="1.71"/><circle cx="87.5" cy="26.4" r="1.07"/><circle cx="86.2" cy="26.2" r="1.19"/><circle cx="42.1" cy="22.4" r="1.71"/><circle cx="42.6" cy="23.2" r="0.92"/><circle cx="41.0" cy="21.4" r="0.82"/><circle cx="25.1" cy="25.9" r="1.71"/><circle cx="24.6" cy="26.8" r="0.96"/><circle cx="25.3" cy="24.5" r="1.16"/><circle cx="32.6" cy="20.1" r="0.90"/><circle cx="32.6" cy="19.3" r="0.56"/><circle cx="38.0" cy="27.3" r="1.14"/><circle cx="37.3" cy="27.4" r="0.70"/><circle cx="54.3" cy="26.9" r="1.14"/><circle cx="54.0" cy="27.5" r="0.64"/><circle cx="72.6" cy="27.6" r="2.00"/><circle cx="73.5" cy="26.7" r="1.19"/><circle cx="71.5" cy="28.5" r="0.97"/><circle cx="65.8" cy="30.0" r="2.28"/><circle cx="67.3" cy="29.6" r="1.37"/><circle cx="64.7" cy="30.6" r="1.34"/><circle cx="69.2" cy="33.7" r="1.43"/><circle cx="69.8" cy="34.3" r="0.65"/><circle cx="17.6" cy="31.4" r="1.43"/><circle cx="18.1" cy="32.1" r="0.87"/><circle cx="4.8" cy="33.0" r="1.71"/><circle cx="3.1" cy="32.9" r="1.17"/><circle cx="5.9" cy="33.0" r="0.96"/><circle cx="29.9" cy="33.7" r="2.28"/><circle cx="29.9" cy="35.5" r="1.38"/><circle cx="30.5" cy="31.9" r="1.17"/><circle cx="37.3" cy="34.3" r="1.43"/><circle cx="36.4" cy="34.9" r="0.64"/><circle cx="23.8" cy="35.4" r="1.71"/><circle cx="24.9" cy="35.7" r="0.82"/><circle cx="23.6" cy="34.3" r="0.81"/><circle cx="52.3" cy="36.0" r="1.71"/><circle cx="52.7" cy="37.0" r="0.86"/><circle cx="51.0" cy="35.8" r="0.90"/><circle cx="57.7" cy="32.3" r="0.90"/><circle cx="57.3" cy="31.9" r="0.61"/><circle cx="65.8" cy="37.7" r="1.43"/><circle cx="67.0" cy="37.5" r="0.80"/><circle cx="73.0" cy="38.4" r="1.43"/><circle cx="71.9" cy="38.3" r="0.66"/><circle cx="78.7" cy="37.7" r="1.71"/><circle cx="77.6" cy="38.4" r="0.85"/><circle cx="80.0" cy="38.6" r="0.93"/><circle cx="5.4" cy="38.7" r="1.43"/><circle cx="4.1" cy="38.5" r="0.86"/><circle cx="40.5" cy="38.1" r="1.14"/><circle cx="40.2" cy="39.2" r="0.62"/><circle cx="26.5" cy="41.1" r="3.14"/><circle cx="29.0" cy="41.4" r="1.49"/><circle cx="25.5" cy="43.7" r="1.94"/><circle cx="33.9" cy="40.5" r="2.00"/><circle cx="35.4" cy="40.6" r="1.10"/><circle cx="32.7" cy="40.6" r="1.19"/><circle cx="15.6" cy="42.5" r="1.71"/><circle cx="16.6" cy="43.0" r="0.93"/><circle cx="16.5" cy="42.1" r="1.09"/><circle cx="25.1" cy="44.5" r="1.43"/><circle cx="25.5" cy="45.6" r="0.78"/><circle cx="31.9" cy="45.9" r="1.43"/><circle cx="30.7" cy="46.2" r="0.78"/><circle cx="37.7" cy="46.3" r="1.43"/><circle cx="38.4" cy="46.9" r="0.67"/><circle cx="47.8" cy="46.3" r="3.14"/><circle cx="49.3" cy="44.2" r="2.16"/><circle cx="47.2" cy="44.7" r="1.93"/><circle cx="44.1" cy="41.1" r="0.90"/><circle cx="44.3" cy="40.4" r="0.52"/><circle cx="75.3" cy="43.2" r="1.71"/><circle cx="74.6" cy="44.1" r="1.11"/><circle cx="75.2" cy="44.5" r="0.97"/><circle cx="68.6" cy="45.5" r="2.28"/><circle cx="70.5" cy="44.9" r="1.56"/><circle cx="69.3" cy="44.2" r="1.16"/><circle cx="69.2" cy="49.0" r="1.43"/><circle cx="68.3" cy="49.1" r="0.79"/><circle cx="1.6" cy="45.5" r="2.00"/><circle cx="0.8" cy="43.8" r="1.19"/><circle cx="2.1" cy="44.4" r="1.08"/><circle cx="8.4" cy="48.6" r="0.90"/><circle cx="9.0" cy="48.6" r="0.50"/><circle cx="39.4" cy="52.0" r="2.00"/><circle cx="40.4" cy="52.5" r="1.34"/><circle cx="41.0" cy="51.9" r="0.96"/><circle cx="17.6" cy="52.3" r="1.14"/><circle cx="17.4" cy="53.0" r="0.70"/><circle cx="54.0" cy="48.6" r="1.14"/><circle cx="53.7" cy="47.9" r="0.66"/><circle cx="66.5" cy="51.3" r="1.14"/><circle cx="67.2" cy="51.9" r="0.78"/><circle cx="68.6" cy="56.1" r="1.71"/><circle cx="68.6" cy="55.1" r="0.99"/><circle cx="68.3" cy="55.0" r="1.15"/><circle cx="10.2" cy="56.3" r="1.43"/><circle cx="9.0" cy="56.6" r="0.79"/><circle cx="3.8" cy="58.1" r="1.71"/><circle cx="5.3" cy="58.1" r="1.01"/><circle cx="4.6" cy="59.1" r="0.78"/><circle cx="17.6" cy="57.2" r="1.43"/><circle cx="16.6" cy="56.4" r="0.71"/><circle cx="21.7" cy="58.1" r="2.28"/><circle cx="20.0" cy="58.0" r="1.26"/><circle cx="21.2" cy="56.1" r="1.43"/><circle cx="25.1" cy="57.4" r="1.43"/><circle cx="23.8" cy="57.7" r="0.76"/><circle cx="31.0" cy="57.4" r="1.14"/><circle cx="30.9" cy="56.5" r="0.73"/><circle cx="51.6" cy="57.2" r="1.14"/><circle cx="52.0" cy="56.6" r="0.69"/><circle cx="54.6" cy="60.1" r="2.00"/><circle cx="53.2" cy="61.1" r="1.39"/><circle cx="53.8" cy="59.3" r="1.13"/><circle cx="47.8" cy="62.9" r="1.71"/><circle cx="47.4" cy="61.4" r="1.05"/><circle cx="48.2" cy="62.0" r="1.17"/><circle cx="42.1" cy="63.5" r="1.43"/><circle cx="41.9" cy="62.4" r="0.96"/><circle cx="38.7" cy="64.2" r="1.14"/><circle cx="39.2" cy="63.8" r="0.75"/><circle cx="65.8" cy="61.2" r="1.43"/><circle cx="65.9" cy="60.3" r="0.91"/><circle cx="69.9" cy="64.2" r="1.71"/><circle cx="69.0" cy="63.7" r="1.11"/><circle cx="70.8" cy="65.2" r="0.96"/><circle cx="77.4" cy="59.5" r="1.14"/><circle cx="77.4" cy="60.3" r="0.65"/><circle cx="83.5" cy="57.4" r="1.71"/><circle cx="83.9" cy="59.0" r="0.80"/><circle cx="84.8" cy="57.5" r="1.13"/><circle cx="24.4" cy="66.3" r="1.71"/><circle cx="23.6" cy="65.0" r="0.98"/><circle cx="23.9" cy="65.2" r="0.88"/><circle cx="28.5" cy="64.9" r="1.43"/><circle cx="27.7" cy="64.9" r="0.67"/><circle cx="37.3" cy="68.3" r="1.43"/><circle cx="37.4" cy="67.4" r="0.91"/><circle cx="14.9" cy="71.3" r="1.71"/><circle cx="15.2" cy="70.1" r="1.06"/><circle cx="15.3" cy="69.8" r="0.83"/><circle cx="4.1" cy="72.1" r="0.90"/><circle cx="4.4" cy="72.6" r="0.51"/><circle cx="31.9" cy="75.8" r="1.71"/><circle cx="31.6" cy="76.7" r="1.01"/><circle cx="33.1" cy="75.5" r="1.00"/><circle cx="36.0" cy="78.1" r="2.00"/><circle cx="34.9" cy="79.0" r="1.33"/><circle cx="35.4" cy="79.6" r="1.14"/><circle cx="40.0" cy="79.8" r="1.43"/><circle cx="38.8" cy="79.5" r="0.67"/><circle cx="44.1" cy="80.2" r="1.14"/><circle cx="44.5" cy="79.5" r="0.70"/><circle cx="26.2" cy="78.9" r="1.14"/><circle cx="26.5" cy="78.0" r="0.63"/><circle cx="16.3" cy="78.5" r="0.90"/><circle cx="16.6" cy="78.0" r="0.55"/><circle cx="69.2" cy="75.1" r="2.00"/><circle cx="68.1" cy="76.0" r="1.32"/><circle cx="69.7" cy="73.5" r="1.05"/><circle cx="70.6" cy="71.7" r="1.14"/><circle cx="70.7" cy="72.5" r="0.58"/><circle cx="79.1" cy="74.4" r="1.71"/><circle cx="78.9" cy="76.0" r="0.82"/><circle cx="79.6" cy="73.3" r="0.93"/><circle cx="53.2" cy="83.5" r="2.00"/><circle cx="52.7" cy="84.5" r="1.13"/><circle cx="53.9" cy="84.7" r="1.04"/><circle cx="25.1" cy="84.6" r="2.00"/><circle cx="26.6" cy="83.4" r="1.12"/><circle cx="23.9" cy="83.2" r="1.06"/><circle cx="29.9" cy="85.9" r="1.71"/><circle cx="30.8" cy="86.6" r="0.85"/><circle cx="29.3" cy="84.9" r="0.92"/><circle cx="33.3" cy="87.6" r="2.00"/><circle cx="33.6" cy="86.3" r="1.30"/><circle cx="32.3" cy="86.5" r="1.31"/><circle cx="7.5" cy="82.9" r="0.90"/><circle cx="7.0" cy="83.6" r="0.61"/><circle cx="1.1" cy="84.3" r="1.14"/><circle cx="0.1" cy="84.3" r="0.78"/><circle cx="82.1" cy="87.3" r="0.90"/><circle cx="82.1" cy="86.5" r="0.60"/><circle cx="40.7" cy="72.1" r="0.90"/><circle cx="41.4" cy="71.8" r="0.63"/><circle cx="25.8" cy="55.1" r="1.27"/><circle cx="32.5" cy="35.0" r="0.92"/><circle cx="84.8" cy="31.3" r="1.13"/><circle cx="79.1" cy="16.5" r="1.47"/><circle cx="11.2" cy="2.5" r="1.05"/><circle cx="31.8" cy="81.2" r="1.42"/><circle cx="67.4" cy="38.6" r="1.18"/><circle cx="21.0" cy="73.8" r="1.07"/><circle cx="25.2" cy="56.4" r="0.91"/><circle cx="28.0" cy="82.0" r="0.87"/><circle cx="12.6" cy="18.1" r="0.60" opacity="0.45"/><circle cx="37.2" cy="22.1" r="0.64" opacity="0.45"/><circle cx="21.8" cy="21.2" r="0.74" opacity="0.45"/><circle cx="29.8" cy="33.0" r="0.81" opacity="0.45"/><circle cx="5.5" cy="12.7" r="0.84" opacity="0.45"/><circle cx="38.0" cy="68.9" r="0.55" opacity="0.45"/><circle cx="46.3" cy="74.8" r="0.64" opacity="0.45"/><circle cx="68.0" cy="54.0" r="0.66" opacity="0.45"/><circle cx="88.3" cy="34.7" r="0.69" opacity="0.45"/><circle cx="54.8" cy="28.0" r="0.84" opacity="0.45"/><circle cx="52.9" cy="52.0" r="0.72" opacity="0.45"/><circle cx="87.2" cy="87.5" r="0.84" opacity="0.45"/><circle cx="40.2" cy="36.4" r="0.71" opacity="0.45"/><circle cx="4.1" cy="9.6" r="0.90" opacity="0.45"/><circle cx="11.3" cy="83.0" r="0.77" opacity="0.45"/><circle cx="81.0" cy="6.8" r="0.62" opacity="0.45"/><circle cx="70.6" cy="0.8" r="0.54" opacity="0.45"/><circle cx="31.0" cy="15.3" r="0.56" opacity="0.45"/><circle cx="59.3" cy="8.1" r="0.89" opacity="0.45"/><circle cx="57.5" cy="4.4" r="0.86" opacity="0.45"/><circle cx="21.4" cy="42.6" r="0.72" opacity="0.45"/><circle cx="12.3" cy="44.4" r="0.52" opacity="0.45"/><circle cx="17.7" cy="81.3" r="0.83" opacity="0.45"/><circle cx="46.3" cy="60.3" r="0.85" opacity="0.45"/><circle cx="12.4" cy="43.6" r="0.55" opacity="0.45"/><circle cx="10.3" cy="9.6" r="0.58" opacity="0.45"/><circle cx="4.7" cy="19.0" r="0.65" opacity="0.45"/><circle cx="55.1" cy="76.0" r="0.86" opacity="0.45"/><circle cx="63.5" cy="44.9" r="0.87" opacity="0.45"/><circle cx="14.4" cy="9.3" r="0.83" opacity="0.45"/><circle cx="55.5" cy="18.6" r="0.65" opacity="0.45"/><circle cx="26.3" cy="38.1" r="0.67" opacity="0.45"/><circle cx="35.2" cy="70.6" r="0.82" opacity="0.45"/><circle cx="49.8" cy="41.8" r="0.61" opacity="0.45"/><circle cx="67.7" cy="87.3" r="0.59" opacity="0.45"/><circle cx="62.2" cy="61.9" r="0.76" opacity="0.45"/><circle cx="2.7" cy="48.8" r="0.58" opacity="0.45"/><circle cx="17.2" cy="51.3" r="0.76" opacity="0.45"/><circle cx="55.4" cy="65.7" r="0.78" opacity="0.45"/><circle cx="42.1" cy="4.2" r="0.81" opacity="0.45"/><circle cx="72.8" cy="73.9" r="0.74" opacity="0.45"/><circle cx="3.4" cy="17.3" r="0.54" opacity="0.45"/><circle cx="56.3" cy="48.2" r="0.57" opacity="0.45"/><circle cx="84.6" cy="86.6" r="0.86" opacity="0.45"/><circle cx="41.1" cy="25.8" r="0.58" opacity="0.45"/><circle cx="72.9" cy="62.0" r="0.61" opacity="0.45"/><circle cx="79.9" cy="50.4" r="0.67" opacity="0.45"/><circle cx="36.8" cy="63.8" r="0.68" opacity="0.45"/><circle cx="58.3" cy="10.8" r="0.78" opacity="0.45"/><circle cx="24.1" cy="80.6" r="0.59" opacity="0.45"/><circle cx="29.5" cy="47.6" r="0.66" opacity="0.45"/><circle cx="46.5" cy="81.8" r="0.58" opacity="0.45"/><circle cx="68.3" cy="61.4" r="0.81" opacity="0.45"/><circle cx="39.6" cy="40.2" r="0.64" opacity="0.45"/><circle cx="41.9" cy="22.5" r="0.58" opacity="0.45"/><circle cx="42.1" cy="17.0" r="0.69" opacity="0.45"/><circle cx="50.7" cy="27.4" r="0.57" opacity="0.45"/><circle cx="53.5" cy="76.1" r="0.59" opacity="0.45"/><circle cx="54.5" cy="58.3" r="0.85" opacity="0.45"/><circle cx="60.4" cy="27.2" r="0.58" opacity="0.45"/></g><g id="bC" fill="#1dffff" filter="url(#bl)"><circle cx="3.4" cy="3.1" r="2.50"/><circle cx="3.5" cy="5.0" r="1.36"/><circle cx="1.8" cy="1.9" r="1.17"/><circle cx="7.5" cy="1.8" r="1.87"/><circle cx="9.1" cy="1.9" r="0.96"/><circle cx="7.6" cy="3.5" r="1.06"/><circle cx="12.9" cy="1.5" r="1.25"/><circle cx="13.4" cy="0.7" r="0.76"/><circle cx="25.1" cy="2.4" r="1.56"/><circle cx="25.8" cy="3.5" r="1.04"/><circle cx="31.2" cy="3.1" r="1.25"/><circle cx="30.2" cy="3.0" r="0.77"/><circle cx="40.7" cy="3.8" r="1.87"/><circle cx="42.2" cy="4.4" r="1.12"/><circle cx="40.4" cy="4.8" r="1.25"/><circle cx="57.7" cy="3.4" r="1.56"/><circle cx="56.4" cy="3.6" r="1.05"/><circle cx="84.2" cy="2.4" r="1.87"/><circle cx="83.8" cy="0.8" r="1.03"/><circle cx="84.6" cy="1.1" r="1.28"/><circle cx="19.7" cy="7.2" r="2.19"/><circle cx="20.6" cy="6.3" r="1.06"/><circle cx="20.1" cy="9.2" r="1.22"/><circle cx="27.8" cy="7.5" r="2.50"/><circle cx="26.7" cy="6.3" r="1.44"/><circle cx="26.5" cy="8.6" r="1.49"/><circle cx="2.7" cy="9.2" r="1.56"/><circle cx="1.5" cy="8.5" r="0.97"/><circle cx="10.2" cy="7.5" r="0.94"/><circle cx="10.9" cy="7.1" r="0.65"/><circle cx="48.9" cy="6.5" r="1.25"/><circle cx="48.5" cy="5.8" r="0.83"/><circle cx="45.5" cy="10.6" r="1.56"/><circle cx="46.9" cy="10.3" r="0.92"/><circle cx="53.9" cy="11.3" r="1.87"/><circle cx="53.6" cy="10.1" r="1.23"/><circle cx="52.8" cy="10.7" r="0.87"/><circle cx="59.1" cy="7.9" r="1.56"/><circle cx="60.0" cy="6.7" r="0.74"/><circle cx="64.5" cy="6.5" r="1.56"/><circle cx="64.8" cy="5.5" r="0.76"/><circle cx="69.2" cy="6.9" r="1.87"/><circle cx="68.8" cy="8.5" r="1.25"/><circle cx="70.7" cy="7.3" r="0.86"/><circle cx="66.5" cy="12.6" r="1.56"/><circle cx="66.3" cy="11.6" r="1.05"/><circle cx="78.1" cy="7.2" r="1.56"/><circle cx="79.2" cy="7.1" r="1.09"/><circle cx="83.2" cy="7.9" r="2.19"/><circle cx="82.8" cy="9.1" r="1.31"/><circle cx="84.6" cy="8.1" r="1.21"/><circle cx="86.2" cy="5.8" r="1.25"/><circle cx="85.6" cy="5.3" r="0.58"/><circle cx="4.1" cy="14.0" r="1.56"/><circle cx="4.8" cy="13.2" r="1.08"/><circle cx="21.0" cy="14.0" r="1.56"/><circle cx="21.9" cy="13.3" r="0.88"/><circle cx="6.8" cy="18.1" r="1.25"/><circle cx="5.8" cy="17.9" r="0.75"/><circle cx="56.3" cy="14.7" r="1.25"/><circle cx="55.4" cy="14.3" r="0.86"/><circle cx="77.4" cy="14.7" r="0.94"/><circle cx="76.7" cy="14.6" r="0.59"/><circle cx="37.3" cy="16.0" r="1.56"/><circle cx="37.4" cy="17.1" r="1.08"/><circle cx="42.5" cy="17.4" r="1.25"/><circle cx="41.5" cy="17.3" r="0.57"/><circle cx="41.4" cy="20.1" r="2.19"/><circle cx="39.9" cy="21.0" r="0.99"/><circle cx="40.1" cy="18.9" r="1.02"/><circle cx="36.7" cy="22.1" r="1.87"/><circle cx="35.7" cy="21.1" r="1.16"/><circle cx="35.7" cy="23.4" r="1.19"/><circle cx="14.9" cy="20.1" r="1.87"/><circle cx="16.0" cy="20.2" r="1.16"/><circle cx="16.1" cy="19.8" r="1.06"/><circle cx="15.6" cy="22.8" r="1.25"/><circle cx="14.9" cy="22.3" r="0.68"/><circle cx="79.4" cy="19.4" r="1.87"/><circle cx="78.9" cy="20.6" r="1.12"/><circle cx="79.0" cy="20.7" r="1.20"/><circle cx="66.5" cy="21.4" r="1.56"/><circle cx="67.7" cy="21.7" r="0.99"/><circle cx="69.2" cy="23.2" r="1.56"/><circle cx="68.9" cy="24.1" r="1.02"/><circle cx="76.0" cy="24.2" r="1.25"/><circle cx="76.1" cy="24.9" r="0.70"/><circle cx="1.4" cy="25.5" r="1.25"/><circle cx="1.1" cy="24.8" r="0.66"/><circle cx="32.6" cy="25.5" r="1.56"/><circle cx="31.9" cy="26.7" r="0.87"/><circle cx="46.8" cy="26.5" r="1.87"/><circle cx="47.5" cy="25.6" r="1.00"/><circle cx="45.8" cy="25.1" r="1.05"/><circle cx="50.9" cy="27.3" r="3.12"/><circle cx="51.2" cy="29.1" r="1.82"/><circle cx="51.9" cy="29.8" r="2.06"/><circle cx="52.3" cy="30.3" r="1.56"/><circle cx="52.7" cy="31.2" r="1.02"/><circle cx="12.2" cy="28.2" r="2.19"/><circle cx="11.0" cy="26.8" r="1.17"/><circle cx="13.2" cy="29.3" r="1.42"/><circle cx="24.4" cy="29.6" r="1.87"/><circle cx="24.3" cy="30.9" r="1.04"/><circle cx="23.3" cy="30.2" r="1.27"/><circle cx="29.9" cy="34.1" r="2.19"/><circle cx="30.5" cy="35.1" r="1.50"/><circle cx="31.4" cy="32.7" r="1.22"/><circle cx="19.0" cy="33.3" r="2.50"/><circle cx="21.2" cy="32.6" r="1.26"/><circle cx="18.9" cy="31.1" r="1.54"/><circle cx="21.0" cy="37.1" r="1.25"/><circle cx="20.2" cy="37.0" r="0.67"/><circle cx="41.4" cy="32.3" r="1.25"/><circle cx="41.5" cy="33.0" r="0.75"/><circle cx="58.4" cy="31.6" r="2.19"/><circle cx="57.9" cy="33.5" r="1.01"/><circle cx="59.9" cy="30.6" r="1.49"/><circle cx="72.6" cy="34.3" r="2.19"/><circle cx="74.2" cy="33.1" r="1.30"/><circle cx="74.5" cy="34.5" r="1.08"/><circle cx="78.7" cy="29.6" r="1.87"/><circle cx="78.3" cy="31.0" r="1.09"/><circle cx="77.3" cy="30.5" r="1.13"/><circle cx="78.1" cy="33.7" r="1.25"/><circle cx="77.6" cy="34.4" r="0.83"/><circle cx="84.8" cy="34.3" r="1.25"/><circle cx="83.8" cy="34.5" r="0.67"/><circle cx="87.6" cy="30.3" r="1.25"/><circle cx="87.9" cy="31.2" r="0.82"/><circle cx="74.0" cy="26.9" r="1.25"/><circle cx="74.5" cy="27.8" r="0.85"/><circle cx="46.8" cy="37.7" r="1.25"/><circle cx="47.2" cy="36.7" r="0.56"/><circle cx="52.3" cy="36.4" r="1.25"/><circle cx="51.5" cy="35.6" r="0.58"/><circle cx="65.2" cy="37.1" r="1.25"/><circle cx="65.1" cy="37.9" r="0.73"/><circle cx="12.9" cy="38.1" r="1.25"/><circle cx="12.1" cy="38.6" r="0.80"/><circle cx="7.5" cy="40.5" r="1.56"/><circle cx="8.4" cy="40.5" r="0.75"/><circle cx="1.4" cy="38.4" r="0.94"/><circle cx="1.7" cy="38.8" r="0.65"/><circle cx="57.0" cy="42.5" r="2.19"/><circle cx="57.8" cy="41.5" r="1.26"/><circle cx="56.4" cy="43.8" r="1.18"/><circle cx="61.1" cy="41.1" r="1.25"/><circle cx="60.5" cy="40.4" r="0.67"/><circle cx="65.8" cy="41.8" r="1.56"/><circle cx="66.2" cy="42.8" r="0.75"/><circle cx="69.2" cy="42.5" r="1.25"/><circle cx="68.3" cy="42.1" r="0.68"/><circle cx="82.1" cy="41.8" r="1.56"/><circle cx="83.0" cy="42.3" r="0.85"/><circle cx="86.9" cy="41.4" r="0.94"/><circle cx="86.2" cy="40.9" r="0.51"/><circle cx="50.2" cy="43.2" r="1.25"/><circle cx="50.5" cy="42.2" r="0.70"/><circle cx="42.1" cy="47.2" r="1.87"/><circle cx="41.1" cy="48.3" r="1.17"/><circle cx="40.7" cy="48.0" r="1.06"/><circle cx="50.2" cy="47.2" r="1.25"/><circle cx="50.3" cy="48.2" r="0.78"/><circle cx="61.1" cy="47.2" r="1.87"/><circle cx="62.3" cy="47.8" r="1.04"/><circle cx="62.4" cy="46.1" r="1.02"/><circle cx="15.6" cy="47.2" r="1.87"/><circle cx="16.9" cy="46.3" r="0.97"/><circle cx="14.5" cy="47.5" r="1.22"/><circle cx="23.1" cy="44.5" r="0.94"/><circle cx="22.6" cy="43.8" r="0.61"/><circle cx="71.3" cy="49.3" r="2.50"/><circle cx="70.2" cy="47.4" r="1.48"/><circle cx="72.8" cy="50.5" r="1.13"/><circle cx="76.0" cy="49.0" r="1.56"/><circle cx="76.9" cy="50.1" r="0.72"/><circle cx="82.8" cy="46.6" r="1.87"/><circle cx="83.7" cy="47.2" r="1.26"/><circle cx="83.3" cy="47.5" r="1.24"/><circle cx="64.5" cy="49.3" r="1.25"/><circle cx="65.3" cy="50.0" r="0.77"/><circle cx="78.1" cy="53.4" r="1.56"/><circle cx="78.8" cy="52.1" r="0.93"/><circle cx="17.6" cy="52.7" r="2.19"/><circle cx="18.0" cy="51.5" r="1.40"/><circle cx="15.8" cy="52.5" r="1.04"/><circle cx="12.2" cy="53.6" r="1.56"/><circle cx="12.2" cy="52.2" r="0.73"/><circle cx="6.8" cy="54.0" r="1.25"/><circle cx="6.4" cy="54.9" r="0.82"/><circle cx="6.1" cy="56.7" r="1.87"/><circle cx="6.2" cy="57.9" r="0.96"/><circle cx="4.9" cy="55.7" r="1.03"/><circle cx="2.7" cy="59.1" r="1.87"/><circle cx="1.8" cy="60.0" r="1.01"/><circle cx="1.8" cy="59.6" r="1.08"/><circle cx="29.9" cy="55.4" r="1.56"/><circle cx="31.0" cy="55.2" r="0.99"/><circle cx="46.2" cy="52.7" r="1.56"/><circle cx="46.8" cy="53.8" r="1.00"/><circle cx="58.4" cy="52.7" r="1.25"/><circle cx="57.9" cy="51.8" r="0.71"/><circle cx="62.4" cy="55.4" r="1.56"/><circle cx="61.6" cy="54.3" r="0.76"/><circle cx="45.5" cy="57.4" r="2.19"/><circle cx="47.0" cy="58.5" r="1.48"/><circle cx="43.9" cy="57.3" r="1.38"/><circle cx="40.7" cy="57.7" r="1.56"/><circle cx="41.1" cy="58.6" r="0.78"/><circle cx="52.3" cy="56.7" r="1.25"/><circle cx="51.5" cy="56.3" r="0.63"/><circle cx="64.5" cy="60.1" r="1.56"/><circle cx="64.0" cy="58.8" r="0.82"/><circle cx="68.6" cy="61.8" r="2.50"/><circle cx="68.1" cy="60.1" r="1.66"/><circle cx="67.1" cy="60.9" r="1.26"/><circle cx="72.4" cy="62.9" r="1.25"/><circle cx="73.3" cy="63.0" r="0.68"/><circle cx="87.6" cy="58.1" r="1.56"/><circle cx="88.1" cy="59.1" r="0.83"/><circle cx="22.4" cy="58.8" r="1.25"/><circle cx="22.5" cy="58.0" r="0.87"/><circle cx="33.3" cy="60.8" r="1.56"/><circle cx="32.0" cy="61.0" r="0.89"/><circle cx="11.5" cy="59.5" r="0.94"/><circle cx="12.0" cy="58.8" r="0.55"/><circle cx="28.5" cy="64.9" r="1.56"/><circle cx="27.2" cy="65.0" r="1.04"/><circle cx="13.6" cy="63.9" r="0.94"/><circle cx="12.9" cy="64.4" r="0.65"/><circle cx="52.9" cy="64.9" r="2.81"/><circle cx="51.2" cy="65.3" r="1.43"/><circle cx="52.5" cy="62.6" r="1.94"/><circle cx="56.3" cy="66.9" r="2.19"/><circle cx="57.2" cy="65.8" r="1.09"/><circle cx="56.3" cy="68.3" r="1.37"/><circle cx="61.8" cy="68.3" r="1.87"/><circle cx="62.8" cy="67.0" r="0.96"/><circle cx="62.6" cy="67.3" r="1.04"/><circle cx="79.4" cy="65.3" r="1.87"/><circle cx="79.3" cy="64.2" r="0.89"/><circle cx="80.0" cy="64.2" r="1.01"/><circle cx="14.9" cy="68.3" r="1.25"/><circle cx="14.0" cy="67.8" r="0.56"/><circle cx="2.0" cy="71.7" r="1.87"/><circle cx="1.3" cy="72.8" r="1.07"/><circle cx="2.4" cy="73.1" r="1.29"/><circle cx="31.9" cy="72.1" r="1.87"/><circle cx="30.8" cy="73.0" r="0.90"/><circle cx="31.7" cy="73.6" r="0.90"/><circle cx="14.3" cy="73.7" r="1.25"/><circle cx="15.1" cy="73.0" r="0.59"/><circle cx="42.8" cy="74.4" r="1.25"/><circle cx="43.6" cy="74.1" r="0.80"/><circle cx="22.4" cy="76.4" r="2.19"/><circle cx="22.5" cy="75.0" r="1.35"/><circle cx="21.3" cy="74.9" r="1.13"/><circle cx="19.0" cy="75.8" r="1.25"/><circle cx="19.0" cy="74.6" r="0.77"/><circle cx="79.4" cy="73.7" r="1.25"/><circle cx="78.7" cy="73.5" r="0.72"/><circle cx="85.5" cy="73.0" r="1.25"/><circle cx="84.9" cy="73.9" r="0.77"/><circle cx="50.9" cy="78.9" r="2.50"/><circle cx="49.5" cy="78.2" r="1.53"/><circle cx="49.9" cy="77.7" r="1.68"/><circle cx="70.6" cy="79.1" r="2.19"/><circle cx="69.9" cy="78.1" r="1.49"/><circle cx="71.5" cy="80.3" r="1.38"/><circle cx="65.8" cy="78.5" r="1.25"/><circle cx="65.1" cy="77.9" r="0.76"/><circle cx="75.3" cy="78.1" r="0.94"/><circle cx="74.7" cy="78.2" r="0.46"/><circle cx="8.1" cy="79.8" r="1.25"/><circle cx="9.1" cy="80.3" r="0.80"/><circle cx="2.0" cy="80.5" r="1.25"/><circle cx="1.0" cy="80.2" r="0.67"/><circle cx="34.6" cy="80.5" r="2.50"/><circle cx="34.4" cy="82.3" r="1.67"/><circle cx="36.4" cy="81.0" r="1.28"/><circle cx="24.4" cy="83.9" r="1.56"/><circle cx="24.6" cy="82.8" r="0.83"/><circle cx="17.0" cy="83.5" r="1.25"/><circle cx="16.2" cy="84.0" r="0.80"/><circle cx="79.4" cy="83.2" r="1.25"/><circle cx="78.8" cy="84.1" r="0.60"/><circle cx="84.8" cy="82.9" r="1.87"/><circle cx="84.7" cy="84.0" r="0.90"/><circle cx="85.1" cy="81.4" r="0.93"/><circle cx="34.6" cy="85.7" r="2.50"/><circle cx="35.3" cy="87.3" r="1.59"/><circle cx="35.5" cy="83.7" r="1.49"/><circle cx="13.6" cy="87.3" r="1.25"/><circle cx="14.1" cy="88.0" r="0.62"/><circle cx="3.4" cy="87.3" r="1.56"/><circle cx="2.2" cy="87.1" r="0.78"/><circle cx="63.1" cy="85.7" r="0.94"/><circle cx="63.1" cy="86.5" r="0.43"/><circle cx="20.4" cy="63.5" r="0.94"/><circle cx="20.6" cy="62.7" r="0.64"/><circle cx="27.2" cy="51.3" r="0.94"/><circle cx="26.6" cy="51.8" r="0.56"/><circle cx="37.3" cy="8.6" r="0.94"/><circle cx="36.7" cy="7.9" r="0.58"/><circle cx="26.5" cy="76.1" r="1.14"/><circle cx="53.2" cy="64.3" r="0.80"/><circle cx="68.2" cy="58.6" r="1.14"/><circle cx="46.3" cy="40.8" r="0.94"/><circle cx="46.9" cy="3.3" r="1.15"/><circle cx="57.2" cy="39.3" r="1.20"/><circle cx="84.9" cy="78.9" r="0.89"/><circle cx="70.1" cy="55.2" r="0.84"/><circle cx="31.9" cy="20.7" r="0.85"/><circle cx="47.7" cy="82.3" r="1.03"/><circle cx="77.0" cy="61.5" r="0.89"/><circle cx="76.0" cy="53.2" r="1.45"/><circle cx="63.4" cy="65.5" r="1.04"/><circle cx="71.4" cy="82.5" r="1.40"/><circle cx="38.7" cy="67.0" r="1.14"/><circle cx="9.7" cy="3.8" r="0.85"/><circle cx="17.7" cy="14.2" r="1.15"/><circle cx="61.9" cy="47.6" r="1.10"/><circle cx="57.5" cy="27.0" r="1.13"/><circle cx="67.0" cy="35.5" r="0.93"/><circle cx="79.6" cy="63.7" r="1.06"/><circle cx="32.8" cy="46.8" r="1.22"/><circle cx="19.8" cy="0.2" r="0.95"/><circle cx="69.3" cy="12.7" r="1.12"/><circle cx="17.3" cy="18.5" r="0.92"/><circle cx="35.7" cy="14.9" r="0.82"/><circle cx="9.7" cy="14.9" r="1.14"/><circle cx="5.3" cy="2.0" r="1.11"/><circle cx="36.1" cy="62.3" r="0.84"/><circle cx="35.7" cy="35.1" r="0.82"/><circle cx="85.4" cy="19.4" r="0.87"/><circle cx="42.0" cy="14.6" r="1.24"/><circle cx="30.7" cy="11.0" r="0.84"/><circle cx="64.4" cy="24.3" r="1.35"/><circle cx="41.2" cy="82.6" r="1.01"/><circle cx="22.1" cy="23.5" r="1.37"/><circle cx="55.7" cy="30.5" r="0.87"/><circle cx="60.4" cy="85.8" r="1.21"/><circle cx="0.3" cy="2.7" r="0.86"/><circle cx="15.1" cy="3.2" r="0.84"/><circle cx="57.9" cy="79.7" r="0.94"/><circle cx="86.2" cy="42.2" r="1.36"/><circle cx="81.2" cy="83.2" r="0.82"/><circle cx="27.0" cy="53.7" r="1.46"/><circle cx="7.8" cy="26.0" r="1.39"/><circle cx="10.1" cy="34.5" r="0.63" opacity="0.45"/><circle cx="60.2" cy="82.2" r="0.57" opacity="0.45"/><circle cx="65.5" cy="65.0" r="0.83" opacity="0.45"/><circle cx="49.0" cy="81.7" r="0.65" opacity="0.45"/><circle cx="36.7" cy="20.3" r="0.81" opacity="0.45"/><circle cx="42.5" cy="23.8" r="0.57" opacity="0.45"/><circle cx="63.8" cy="53.6" r="0.78" opacity="0.45"/><circle cx="34.2" cy="43.1" r="0.56" opacity="0.45"/><circle cx="62.9" cy="2.0" r="0.69" opacity="0.45"/><circle cx="67.1" cy="59.9" r="0.54" opacity="0.45"/><circle cx="21.0" cy="74.7" r="0.76" opacity="0.45"/><circle cx="77.8" cy="77.2" r="0.68" opacity="0.45"/><circle cx="79.4" cy="64.9" r="0.63" opacity="0.45"/><circle cx="32.8" cy="6.4" r="0.66" opacity="0.45"/><circle cx="84.6" cy="9.3" r="0.73" opacity="0.45"/><circle cx="9.7" cy="7.2" r="0.76" opacity="0.45"/><circle cx="21.3" cy="4.3" r="0.56" opacity="0.45"/><circle cx="57.0" cy="51.8" r="0.50" opacity="0.45"/><circle cx="20.3" cy="85.6" r="0.59" opacity="0.45"/><circle cx="49.8" cy="37.1" r="0.81" opacity="0.45"/><circle cx="53.5" cy="69.8" r="0.71" opacity="0.45"/><circle cx="16.7" cy="15.7" r="0.53" opacity="0.45"/><circle cx="73.1" cy="10.0" r="0.51" opacity="0.45"/><circle cx="85.5" cy="17.6" r="0.86" opacity="0.45"/><circle cx="7.6" cy="41.2" r="0.59" opacity="0.45"/><circle cx="73.4" cy="54.5" r="0.76" opacity="0.45"/><circle cx="67.4" cy="77.1" r="0.64" opacity="0.45"/><circle cx="53.4" cy="39.4" r="0.54" opacity="0.45"/><circle cx="73.9" cy="52.6" r="0.83" opacity="0.45"/><circle cx="18.2" cy="47.7" r="0.69" opacity="0.45"/><circle cx="64.4" cy="6.8" r="0.64" opacity="0.45"/><circle cx="42.9" cy="6.3" r="0.72" opacity="0.45"/><circle cx="65.1" cy="37.4" r="0.76" opacity="0.45"/><circle cx="53.6" cy="19.0" r="0.64" opacity="0.45"/><circle cx="88.1" cy="29.7" r="0.67" opacity="0.45"/><circle cx="7.5" cy="19.3" r="0.57" opacity="0.45"/><circle cx="82.4" cy="64.3" r="0.85" opacity="0.45"/><circle cx="87.3" cy="54.2" r="0.87" opacity="0.45"/><circle cx="47.4" cy="37.1" r="0.88" opacity="0.45"/><circle cx="79.9" cy="84.0" r="0.69" opacity="0.45"/><circle cx="68.5" cy="36.0" r="0.90" opacity="0.45"/><circle cx="81.4" cy="25.8" r="0.87" opacity="0.45"/><circle cx="16.3" cy="8.5" r="0.79" opacity="0.45"/><circle cx="26.0" cy="46.0" r="0.76" opacity="0.45"/><circle cx="3.6" cy="65.9" r="0.61" opacity="0.45"/><circle cx="38.3" cy="30.5" r="0.80" opacity="0.45"/><circle cx="66.1" cy="25.4" r="0.54" opacity="0.45"/><circle cx="26.5" cy="36.4" r="0.53" opacity="0.45"/><circle cx="13.6" cy="67.5" r="0.78" opacity="0.45"/><circle cx="86.4" cy="86.7" r="0.85" opacity="0.45"/><circle cx="33.0" cy="14.3" r="0.62" opacity="0.45"/><circle cx="41.0" cy="46.5" r="0.72" opacity="0.45"/><circle cx="31.8" cy="75.5" r="0.61" opacity="0.45"/><circle cx="41.0" cy="78.5" r="0.82" opacity="0.45"/><circle cx="26.3" cy="21.5" r="0.82" opacity="0.45"/><circle cx="0.9" cy="11.6" r="0.71" opacity="0.45"/><circle cx="47.4" cy="14.7" r="0.52" opacity="0.45"/><circle cx="18.0" cy="68.1" r="0.69" opacity="0.45"/><circle cx="86.7" cy="69.5" r="0.89" opacity="0.45"/><circle cx="3.1" cy="16.4" r="0.51" opacity="0.45"/></g><clipPath id="cp"><rect x="0" y="0" width="88.5" height="88.5"/></clipPath></defs>
<g transform="translate(18.1,328.5)" clip-path="url(#cp)"><use href="#bG"/></g>
<g transform="translate(110.7,328.5)" clip-path="url(#cp)"><use href="#bM"/></g>
<g transform="translate(203.1,328.5)" clip-path="url(#cp)"><use href="#bC"/></g>
<g transform="translate(295.6,328.5)" clip-path="url(#cp)" style="isolation:isolate"><use href="#bG" style="mix-blend-mode:screen"/><use href="#bM" style="mix-blend-mode:screen"/><use href="#bC" style="mix-blend-mode:screen"/></g>
<rect x="403.8" y="0" width="281.2" height="48.2" fill="#d9d9d9"/>
<rect x="403.8" y="45.300000000000004" width="281.2" height="2.9" fill="#7a7a7a"/>
<text x="385.9" y="19.3" font-size="23" font-weight="bold" fill="#000">c</text>
<text x="407.9" y="19.3" font-size="15.2" text-anchor="start" font-weight="normal" fill="#111" ><tspan fill="#111">Blocking of DM heterodimers by TM1</tspan><tspan fill="#111" font-size="9.12" dy="-5.02">MOR</tspan></text>
<text x="407.9" y="38.6" font-size="15.2" text-anchor="start" font-weight="normal" fill="#111" ><tspan fill="#111">and TM4</tspan><tspan fill="#111" font-size="9.12" dy="-5.02">DOR</tspan><tspan fill="#111" dy="5.02">: Concentration dependence</tspan></text>
<rect x="464.8" y="65.95" width="211.2" height="347.55" fill="none" stroke="#222" stroke-width="1.8"/>
<path d="M456.1 65.9 H464.8" stroke="#222" stroke-width="1.7"/>
<text x="452.2" y="71.9" font-size="16.4" text-anchor="end" font-weight="normal" fill="#111" ><tspan>2.5</tspan></text>
<path d="M456.1 181.8 H464.8" stroke="#222" stroke-width="1.7"/>
<text x="452.2" y="187.8" font-size="16.4" text-anchor="end" font-weight="normal" fill="#111" ><tspan>2.0</tspan></text>
<path d="M456.1 297.6 H464.8" stroke="#222" stroke-width="1.7"/>
<text x="452.2" y="303.6" font-size="16.4" text-anchor="end" font-weight="normal" fill="#111" ><tspan>1.5</tspan></text>
<path d="M456.1 413.5 H464.8" stroke="#222" stroke-width="1.7"/>
<text x="452.2" y="419.5" font-size="16.4" text-anchor="end" font-weight="normal" fill="#111" ><tspan>1.0</tspan></text>
<path d="M460.0 123.9 H464.8" stroke="#222" stroke-width="1.5"/>
<path d="M460.0 239.7 H464.8" stroke="#222" stroke-width="1.5"/>
<path d="M460.0 355.6 H464.8" stroke="#222" stroke-width="1.5"/>
<path d="M500.3 413.5 V422.2" stroke="#222" stroke-width="1.7"/>
<text x="500.3" y="442.3" font-size="16.4" text-anchor="middle" font-weight="normal" fill="#111" ><tspan>0</tspan></text>
<path d="M588.1 413.5 V422.2" stroke="#222" stroke-width="1.7"/>
<text x="588.1" y="442.3" font-size="16.4" text-anchor="middle" font-weight="normal" fill="#111" ><tspan>5</tspan></text>
<path d="M676.0 413.5 V422.2" stroke="#222" stroke-width="1.7"/>
<text x="676.0" y="442.3" font-size="16.4" text-anchor="middle" font-weight="normal" fill="#111" ><tspan>10</tspan></text>
<path d="M544.2 413.5 V418.3" stroke="#222" stroke-width="1.5"/>
<path d="M632.1 413.5 V418.3" stroke="#222" stroke-width="1.5"/>
<text x="590" y="464.9" font-size="16.4" text-anchor="middle" font-weight="normal" fill="#111" ><tspan>TM-peptide / MOR</tspan></text>
<text transform="translate(424.8,241.2) rotate(-90)" font-size="16.4" text-anchor="middle" fill="#111">DM colocalization index</text>
<rect x="491" y="180.8" width="19.2" height="129" fill="none" stroke="#808080" stroke-width="3.8"/>
<path d="M483.9 221.8 H516.8 M500.5 205.7 V238.1" stroke="#000" stroke-width="2.1" fill="none"/>
<g fill="rgba(244,170,110,0.62)" stroke="rgba(222,130,60,0.85)" stroke-width="0.9"><circle cx="502.7" cy="75.2" r="4.4"/><circle cx="502.7" cy="172.6" r="4.4"/><circle cx="513.3" cy="209.2" r="4.4"/><circle cx="504.5" cy="217.9" r="4.4"/><circle cx="504" cy="234.6" r="4.4"/><circle cx="507.2" cy="238.1" r="4.4"/><circle cx="508.6" cy="255.6" r="4.4"/><circle cx="525.6" cy="280.1" r="4.4"/><circle cx="505.9" cy="285" r="4.4"/><circle cx="525" cy="295.5" r="4.4"/><circle cx="535.2" cy="295.7" r="4.4"/><circle cx="509.6" cy="312.2" r="4.4"/><circle cx="519.8" cy="312.2" r="4.4"/><circle cx="521.5" cy="321.6" r="4.4"/><circle cx="515.4" cy="327.4" r="4.4"/><circle cx="526.8" cy="329.2" r="4.4"/><circle cx="546.1" cy="329.5" r="4.4"/><circle cx="565.7" cy="335.6" r="4.4"/><circle cx="584.6" cy="336.2" r="4.4"/><circle cx="527.3" cy="345.8" r="4.4"/><circle cx="532.6" cy="346.2" r="4.4"/><circle cx="555.7" cy="347" r="4.4"/><circle cx="542.6" cy="357.5" r="4.4"/><circle cx="537.3" cy="359.3" r="4.4"/><circle cx="585.5" cy="361" r="4.4"/><circle cx="562.4" cy="376.5" r="4.4"/><circle cx="611.4" cy="359.3" r="4.4"/><circle cx="619.7" cy="370.9" r="4.4"/><circle cx="647.7" cy="362.4" r="4.4"/><circle cx="624.6" cy="383.1" r="4.4"/><circle cx="628.9" cy="383.1" r="4.4"/></g>
<g fill="rgba(70,170,252,0.72)" stroke="rgba(60,90,245,0.85)" stroke-width="0.9"><circle cx="515.8" cy="115.2" r="4.4"/><circle cx="510" cy="147.1" r="4.4"/><circle cx="517.6" cy="190.3" r="4.4"/><circle cx="546.4" cy="194" r="4.4"/><circle cx="532.6" cy="212.7" r="4.4"/><circle cx="516.8" cy="231.9" r="4.4"/><circle cx="543.1" cy="231.9" r="4.4"/><circle cx="527.3" cy="243.9" r="4.4"/><circle cx="539.2" cy="243.9" r="4.4"/><circle cx="546" cy="248.8" r="4.4"/><circle cx="555" cy="255.4" r="4.4"/><circle cx="530.3" cy="255.1" r="4.4"/><circle cx="535.7" cy="260.8" r="4.4"/><circle cx="576.9" cy="263.5" r="4.4"/><circle cx="515" cy="263.8" r="4.4"/><circle cx="546.2" cy="280.1" r="4.4"/><circle cx="564.6" cy="282.2" r="4.4"/><circle cx="516.3" cy="278.7" r="4.4"/><circle cx="513.8" cy="283.1" r="4.4"/><circle cx="583.4" cy="289.2" r="4.4"/><circle cx="535.7" cy="289.8" r="4.4"/><circle cx="574.3" cy="300.7" r="4.4"/><circle cx="509.8" cy="304.7" r="4.4"/><circle cx="551.6" cy="310.4" r="4.4"/><circle cx="565.7" cy="328.3" r="4.4"/></g>
<g fill="rgba(175,115,240,0.62)" stroke="rgba(120,50,205,0.85)" stroke-width="0.9"><circle cx="506.2" cy="75.2" r="4.4"/><circle cx="503.9" cy="167.7" r="4.4"/><circle cx="510.2" cy="170.4" r="4.4"/><circle cx="505.9" cy="220.9" r="4.4"/><circle cx="515.9" cy="237.7" r="4.4"/><circle cx="511.2" cy="239.8" r="4.4"/><circle cx="509.4" cy="244.2" r="4.4"/><circle cx="517.1" cy="244.6" r="4.4"/><circle cx="519.9" cy="255.6" r="4.4"/><circle cx="517.7" cy="270.5" r="4.4"/><circle cx="521.2" cy="284" r="4.4"/><circle cx="521.8" cy="304.6" r="4.4"/><circle cx="532" cy="310.6" r="4.4"/><circle cx="515.4" cy="317.4" r="4.4"/><circle cx="514.5" cy="322.7" r="4.4"/><circle cx="516.6" cy="325.1" r="4.4"/><circle cx="523.3" cy="329.7" r="4.4"/><circle cx="521.2" cy="331.8" r="4.4"/><circle cx="533.8" cy="334.8" r="4.4"/><circle cx="525.9" cy="339.3" r="4.4"/><circle cx="520.7" cy="351.1" r="4.4"/><circle cx="522.9" cy="356.7" r="4.4"/><circle cx="523.3" cy="360.7" r="4.4"/><circle cx="528.9" cy="359.8" r="4.4"/><circle cx="536.4" cy="358.1" r="4.4"/><circle cx="532" cy="365.1" r="4.4"/><circle cx="554.8" cy="363" r="4.4"/><circle cx="546.4" cy="380" r="4.4"/><circle cx="547.8" cy="382.6" r="4.4"/><circle cx="541.7" cy="385.8" r="4.4"/><circle cx="562.2" cy="385.6" r="4.4"/><circle cx="577" cy="378.2" r="4.4"/><circle cx="579.9" cy="380" r="4.4"/><circle cx="597.3" cy="387" r="4.4"/><circle cx="607.6" cy="380.3" r="4.4"/><circle cx="638.2" cy="389.6" r="4.4"/><circle cx="561.8" cy="401.3" r="4.4"/></g>
<circle cx="536" cy="90.1" r="9.3" fill="#a56cf2" stroke="#6e2fb8" stroke-width="1.3"/>
<circle cx="536" cy="120.8" r="9.3" fill="#fce5d4" stroke="#f08234" stroke-width="1.3"/>
<circle cx="536" cy="149.7" r="9.3" fill="#0a96fa" stroke="#2f6fe0" stroke-width="1.3"/>
<text x="551.5" y="94.7" font-size="16.1" text-anchor="start" font-weight="normal" fill="#111" ><tspan fill="#111">+ </tspan><tspan fill="#8a10f0">TM1</tspan><tspan fill="#8a10f0" font-size="9.66" dy="-5.31">MOR</tspan></text>
<text x="551.5" y="125.5" font-size="16.1" text-anchor="start" font-weight="normal" fill="#111" ><tspan fill="#111">+ </tspan><tspan fill="#f58238">Nterm-TM1</tspan><tspan fill="#f58238" font-size="9.66" dy="-5.31">MOR</tspan></text>
<text x="551.5" y="155.7" font-size="16.1" text-anchor="start" font-weight="normal" fill="#111" ><tspan fill="#111">+ TM</tspan><tspan fill="#111" font-size="9.66" dy="-5.31">LDLR</tspan><tspan fill="#111" dy="5.31">-</tspan><tspan fill="#1a1aff">TM4</tspan><tspan fill="#1a1aff" font-size="9.66" dy="-5.31">DOR</tspan></text>
<rect x="18.8" y="464.8" width="436.7" height="24.30000000000001" fill="#d9d9d9"/>
<rect x="18.8" y="486.20000000000005" width="436.7" height="2.9" fill="#7a7a7a"/>
<text x="-0.8" y="484.1" font-size="23" font-weight="bold" fill="#000">b</text>
<text x="25.3" y="482.3" font-size="16.42" text-anchor="start" font-weight="normal" fill="#111" ><tspan>Colocalization indexes of the hetero-pairs of ORs and TMs</tspan></text>
<rect x="19.4" y="499.1" width="380.6" height="127.79999999999995" fill="#fff" stroke="#111" stroke-width="1.8"/>
<path d="M175.6 499.1 V630.1999999999999" stroke="#111" stroke-width="1.7"/>
<path d="M208.0 626.9 V635.5" stroke="#111" stroke-width="1.6"/>
<text x="208.0" y="649.9" font-size="16.4" text-anchor="middle" font-weight="normal" fill="#111" ><tspan>1</tspan></text>
<path d="M272.0 626.9 V635.5" stroke="#111" stroke-width="1.6"/>
<text x="272.0" y="649.9" font-size="16.4" text-anchor="middle" font-weight="normal" fill="#111" ><tspan>2</tspan></text>
<path d="M336.0 626.9 V635.5" stroke="#111" stroke-width="1.6"/>
<text x="336.0" y="649.9" font-size="16.4" text-anchor="middle" font-weight="normal" fill="#111" ><tspan>3</tspan></text>
<path d="M400.0 626.9 V635.5" stroke="#111" stroke-width="1.6"/>
<text x="400.0" y="649.9" font-size="16.4" text-anchor="middle" font-weight="normal" fill="#111" ><tspan>4</tspan></text>
<path d="M240.0 626.9 V630.3" stroke="#111" stroke-width="1.4"/>
<path d="M304.0 626.9 V630.3" stroke="#111" stroke-width="1.4"/>
<path d="M368.0 626.9 V630.3" stroke="#111" stroke-width="1.4"/>
<text x="297" y="667" font-size="16.4" text-anchor="middle" font-weight="normal" fill="#111" ><tspan>Colocalization index</tspan></text>
<text x="169.5" y="518.2" font-size="13.6" text-anchor="end" font-weight="normal" fill="#111" ><tspan fill="#1a1aff">DOR</tspan><tspan fill="#333"> vs </tspan><tspan fill="#ff1a6c">MOR</tspan></text>
<text x="169.5" y="544.0" font-size="13.6" text-anchor="end" font-weight="normal" fill="#111" ><tspan fill="#1a1aff">DOR</tspan><tspan fill="#333"> vs </tspan><tspan fill="#ff1a6c">TM1</tspan><tspan fill="#ff1a6c" font-size="8.16" dy="-4.49">MOR</tspan></text>
<text x="169.5" y="568.8" font-size="13.6" text-anchor="end" font-weight="normal" fill="#111" ><tspan fill="#1a1aff">DOR</tspan><tspan fill="#333"> vs </tspan><tspan fill="#ff1a6c">Nterm-TM1</tspan><tspan fill="#ff1a6c" font-size="8.16" dy="-4.49">MOR</tspan></text>
<text x="169.5" y="593.4" font-size="13.6" text-anchor="end" font-weight="normal" fill="#111" ><tspan fill="#1a1aff">TM1</tspan><tspan fill="#1a1aff" font-size="8.16" dy="-4.49">DOR</tspan><tspan fill="#333" dy="4.49"> vs </tspan><tspan fill="#ff1a6c">MOR</tspan></text>
<text x="169.5" y="617.3" font-size="13.6" text-anchor="end" font-weight="normal" fill="#111" ><tspan fill="#111">TM</tspan><tspan fill="#111" font-size="8.16" dy="-4.49">LDLR</tspan><tspan fill="#1a1aff" dy="4.49">-</tspan><tspan fill="#1a1aff">TM4</tspan><tspan fill="#1a1aff" font-size="8.16" dy="-4.49">DOR</tspan><tspan fill="#333" dy="4.49"> vs </tspan><tspan fill="#ff1a6c">MOR</tspan></text>
<g fill="#b9b9b9"><circle cx="263.1" cy="511.6" r="1.7"/><circle cx="294.4" cy="515.2" r="1.7"/><circle cx="253.5" cy="506.2" r="1.7"/><circle cx="253.4" cy="518.7" r="1.7"/><circle cx="259.3" cy="521.1" r="1.7"/><circle cx="280.3" cy="513.2" r="1.7"/><circle cx="276.5" cy="515.7" r="1.7"/><circle cx="234.1" cy="508.3" r="1.7"/><circle cx="224.7" cy="514.0" r="1.7"/><circle cx="224.7" cy="517.2" r="1.7"/><circle cx="255.8" cy="517.5" r="1.7"/><circle cx="251.8" cy="515.0" r="1.7"/><circle cx="258.3" cy="519.1" r="1.7"/><circle cx="267.0" cy="513.2" r="1.7"/><circle cx="249.6" cy="516.8" r="1.7"/><circle cx="224.7" cy="520.0" r="1.7"/><circle cx="224.7" cy="512.8" r="1.7"/><circle cx="356.0" cy="513.6" r="1.7"/><circle cx="390.8" cy="513.6" r="1.7"/></g>
<path d="M224.7 513.6 H236.0 M272.2 513.6 H296.6 M224.7 509.3 V517.9 M296.6 509.3 V517.9" stroke="#7d7d7d" stroke-width="1.3" fill="none"/>
<rect x="236.0" y="504.6" width="36.2" height="18" fill="none" stroke="#7d7d7d" stroke-width="1.3"/>
<path d="M260.5 505.0 V522.2" stroke="#ff45a4" stroke-width="3.6" stroke-linecap="round"/>
<g fill="#b9b9b9"><circle cx="290.7" cy="545.4" r="1.7"/><circle cx="270.0" cy="533.3" r="1.7"/><circle cx="252.8" cy="534.5" r="1.7"/><circle cx="289.2" cy="540.7" r="1.7"/><circle cx="255.0" cy="535.8" r="1.7"/><circle cx="234.8" cy="536.5" r="1.7"/><circle cx="260.0" cy="540.1" r="1.7"/><circle cx="225.8" cy="541.6" r="1.7"/><circle cx="231.9" cy="545.3" r="1.7"/><circle cx="296.6" cy="541.4" r="1.7"/><circle cx="225.8" cy="533.7" r="1.7"/><circle cx="296.6" cy="544.9" r="1.7"/><circle cx="225.8" cy="539.8" r="1.7"/><circle cx="257.0" cy="543.8" r="1.7"/><circle cx="243.2" cy="539.9" r="1.7"/><circle cx="259.1" cy="544.2" r="1.7"/><circle cx="270.7" cy="546.2" r="1.7"/><circle cx="309.0" cy="538.8" r="1.7"/><circle cx="221.0" cy="535.8" r="1.7"/></g>
<path d="M225.8 538.8 H242.3 M278.0 538.8 H296.6 M225.8 534.5 V543.0999999999999 M296.6 534.5 V543.0999999999999" stroke="#7d7d7d" stroke-width="1.3" fill="none"/>
<rect x="242.3" y="529.8" width="35.7" height="18" fill="none" stroke="#7d7d7d" stroke-width="1.3"/>
<path d="M261.2 530.1999999999999 V547.4" stroke="#ff45a4" stroke-width="3.6" stroke-linecap="round"/>
<g fill="#b9b9b9"><circle cx="319.6" cy="562.6" r="1.7"/><circle cx="305.3" cy="558.7" r="1.7"/><circle cx="250.0" cy="569.6" r="1.7"/><circle cx="319.6" cy="557.1" r="1.7"/><circle cx="259.3" cy="567.3" r="1.7"/><circle cx="260.4" cy="561.4" r="1.7"/><circle cx="319.6" cy="564.1" r="1.7"/><circle cx="226.6" cy="571.5" r="1.7"/><circle cx="262.5" cy="565.5" r="1.7"/><circle cx="282.8" cy="556.9" r="1.7"/><circle cx="281.2" cy="565.7" r="1.7"/><circle cx="306.1" cy="558.8" r="1.7"/><circle cx="319.6" cy="561.2" r="1.7"/><circle cx="289.0" cy="570.9" r="1.7"/><circle cx="298.6" cy="563.4" r="1.7"/><circle cx="245.1" cy="564.3" r="1.7"/><circle cx="235.6" cy="564.9" r="1.7"/><circle cx="325.0" cy="562.0" r="1.7"/><circle cx="326.0" cy="567.0" r="1.7"/><circle cx="211.0" cy="567.0" r="1.7"/><circle cx="218.0" cy="562.0" r="1.7"/></g>
<path d="M226.6 564.0 H237.5 M289.7 564.0 H319.6 M226.6 559.7 V568.3 M319.6 559.7 V568.3" stroke="#7d7d7d" stroke-width="1.3" fill="none"/>
<rect x="237.5" y="555.0" width="52.2" height="18" fill="none" stroke="#7d7d7d" stroke-width="1.3"/>
<path d="M268.2 555.4 V572.6" stroke="#ff45a4" stroke-width="3.6" stroke-linecap="round"/>
<g fill="#b9b9b9"><circle cx="217.4" cy="591.0" r="1.7"/><circle cx="258.0" cy="588.2" r="1.7"/><circle cx="230.6" cy="592.5" r="1.7"/><circle cx="241.1" cy="596.4" r="1.7"/><circle cx="257.5" cy="589.5" r="1.7"/><circle cx="236.6" cy="587.9" r="1.7"/><circle cx="238.7" cy="590.4" r="1.7"/><circle cx="258.0" cy="591.2" r="1.7"/><circle cx="243.4" cy="582.5" r="1.7"/><circle cx="223.2" cy="591.9" r="1.7"/><circle cx="222.8" cy="587.0" r="1.7"/><circle cx="230.5" cy="582.0" r="1.7"/><circle cx="217.4" cy="582.6" r="1.7"/><circle cx="217.4" cy="585.4" r="1.7"/><circle cx="217.4" cy="588.5" r="1.7"/><circle cx="224.2" cy="587.1" r="1.7"/><circle cx="229.5" cy="586.4" r="1.7"/><circle cx="203.0" cy="589.2" r="1.7"/><circle cx="271.5" cy="589.2" r="1.7"/></g>
<path d="M217.4 589.2 H226.6 M254.7 589.2 H258.0 M217.4 584.9000000000001 V593.5 M258.0 584.9000000000001 V593.5" stroke="#7d7d7d" stroke-width="1.3" fill="none"/>
<rect x="226.6" y="580.2" width="28.1" height="18" fill="none" stroke="#7d7d7d" stroke-width="1.3"/>
<path d="M239.7 580.6 V597.8000000000001" stroke="#ff45a4" stroke-width="3.6" stroke-linecap="round"/>
<g fill="#b9b9b9"><circle cx="219.0" cy="611.4" r="1.7"/><circle cx="250.3" cy="612.5" r="1.7"/><circle cx="232.6" cy="615.4" r="1.7"/><circle cx="227.7" cy="618.0" r="1.7"/><circle cx="227.1" cy="619.0" r="1.7"/><circle cx="244.3" cy="610.4" r="1.7"/><circle cx="239.6" cy="617.4" r="1.7"/><circle cx="250.3" cy="608.4" r="1.7"/><circle cx="224.7" cy="619.4" r="1.7"/><circle cx="247.1" cy="613.5" r="1.7"/><circle cx="239.0" cy="611.9" r="1.7"/><circle cx="223.1" cy="616.7" r="1.7"/><circle cx="247.3" cy="610.2" r="1.7"/><circle cx="219.0" cy="608.7" r="1.7"/><circle cx="220.1" cy="619.0" r="1.7"/><circle cx="229.8" cy="619.5" r="1.7"/><circle cx="238.1" cy="619.0" r="1.7"/><circle cx="205.0" cy="614.4" r="1.7"/><circle cx="253.0" cy="617.4" r="1.7"/></g>
<path d="M219.0 614.4 H220.0 M244.8 614.4 H250.3 M219.0 610.1 V618.6999999999999 M250.3 610.1 V618.6999999999999" stroke="#7d7d7d" stroke-width="1.3" fill="none"/>
<rect x="220.0" y="605.4" width="24.8" height="18" fill="none" stroke="#7d7d7d" stroke-width="1.3"/>
<path d="M232.0 605.8 V623.0" stroke="#ff45a4" stroke-width="3.6" stroke-linecap="round"/>
<path d="M340.9 539 V566 M344.8 514.5 V540 M348.7 514.5 V564 M377 514.5 V588.6 M381 514.5 V614.5" stroke="#666" stroke-width="1.5" fill="none"/>
<text transform="translate(351.9,521.5) rotate(90)" font-size="14.4" fill="#111">ns</text>
<text x="387.2" y="537.7" font-size="24" text-anchor="middle" font-weight="normal" fill="#111" ><tspan>*</tspan></text>
<rect x="18.3" y="686.1" width="376.59999999999997" height="24.5" fill="#d9d9d9"/>
<rect x="18.3" y="707.7" width="376.59999999999997" height="2.9" fill="#7a7a7a"/>
<text x="-1.0" y="705.6" font-size="23" font-weight="bold" fill="#000">d</text>
<text x="24.6" y="703.8" font-size="16.42" text-anchor="start" font-weight="normal" fill="#111" ><tspan fill="#111">TM1</tspan><tspan fill="#111" font-size="9.85" dy="-5.42">MOR</tspan><tspan fill="#111" dy="5.42"> also suppresses MM and DD homodimers</tspan></text>
<text x="33.2" y="732.0" font-size="13.5" text-anchor="start" font-weight="normal" fill="#111" ><tspan>DpepDM</tspan></text>
<path d="M97.8 728.3 C104 726 110 721.5 116.6 721.5 C123 721.5 122 731.3 127.8 731.3 C133 731.3 133 724.8 139 724.8 C144.5 724.8 142 733.8 148.5 733.8 H155" fill="none" stroke="#1172c9" stroke-width="2" stroke-linecap="round"/>
<path d="M161.5 728.9 C182 727 200 731.5 211 741.3" fill="none" stroke="#111" stroke-width="2.3"/>
<path d="M217.3 746.9 L211.9 736.2 L210.0 741.4 L205.6 744.5 Z" fill="#111"/>
<text x="176.7" y="746.7" font-size="14.5" text-anchor="start" font-weight="normal" fill="#666" ><tspan>or</tspan></text>
<rect x="21" y="802.4" width="115.19999999999999" height="19" fill="url(#cyt)"/>
<g transform="translate(21,779.6)"><rect x="0" y="0" width="115.19999999999999" height="23" fill="url(#lip)"/></g>
<path d="M71.2 771 V780" stroke="#555" stroke-width="1.4"/>
<circle cx="71.2" cy="765.1" r="12.5" fill="url(#glow)"/>
<polygon points="71.20,757.10 73.17,762.38 78.81,762.63 74.40,766.14 75.90,771.57 71.20,768.46 66.50,771.57 68.00,766.14 63.59,762.63 69.23,762.38" fill="#63ba31" stroke="#237f16" stroke-width="0.9" stroke-linejoin="miter"/>
<rect x="68.2" y="778.8" width="6.0" height="25.600000000000023" rx="3.0" ry="3.0" fill="url(#hO)" stroke="#d41b12" stroke-width="1.4"/>
<path d="M74.6 778.2 L79.2 775.6 M74.6 805.4 L79.4 807.8" stroke="#111" stroke-width="1.1"/>
<text x="80.8" y="777.8" font-size="12.2" text-anchor="start" font-weight="normal" fill="#111" ><tspan>N</tspan></text>
<text x="80.8" y="812.8" font-size="12.2" text-anchor="start" font-weight="normal" fill="#111" ><tspan>C</tspan></text>
<text x="30" y="828.0" font-size="13.65" text-anchor="start" font-weight="normal" fill="#111" ><tspan fill="#e6108c">(Nterm-)TM1</tspan><tspan fill="#e6108c" font-size="8.19" dy="-4.5">MOR</tspan></text>
<text x="140" y="795.4" font-size="14.5" text-anchor="start" font-weight="normal" fill="#666" ><tspan>or</tspan></text>
<rect x="158.7" y="802.4" width="61.60000000000002" height="19" fill="url(#cyt)"/>
<g transform="translate(158.7,779.6)"><rect x="0" y="0" width="61.60000000000002" height="23" fill="url(#lip)"/></g>
<path d="M185.5 771 V780" stroke="#555" stroke-width="1.4"/>
<circle cx="185.4" cy="765.1" r="12.5" fill="url(#glow)"/>
<polygon points="185.40,757.10 187.37,762.38 193.01,762.63 188.60,766.14 190.10,771.57 185.40,768.46 180.70,771.57 182.20,766.14 177.79,762.63 183.43,762.38" fill="#63ba31" stroke="#237f16" stroke-width="0.9" stroke-linejoin="miter"/>
<rect x="182.6" y="778.8" width="6.0" height="25.600000000000023" rx="3.0" ry="3.0" fill="url(#hG)" stroke="#3a3a3a" stroke-width="1.4"/>
<path d="M189.0 778.2 L193.5 775.6 M189.0 805.4 L193.8 807.8" stroke="#111" stroke-width="1.1"/>
<text x="194.6" y="777.6" font-size="12.2" text-anchor="start" font-weight="normal" fill="#111" ><tspan>N</tspan></text>
<text x="194.6" y="812.6" font-size="12.2" text-anchor="start" font-weight="normal" fill="#111" ><tspan>C</tspan></text>
<text x="169.8" y="828.8" font-size="13.5" text-anchor="start" font-weight="normal" fill="#111" ><tspan fill="#111">TM</tspan><tspan fill="#111" font-size="8.1" dy="-4.46">LDLR</tspan></text>
<path d="M245.4 791.7 H264.4 M254.9 782.2 V801.2" stroke="#777" stroke-width="4.4"/>
<rect x="290.4" y="802.4" width="169.90000000000003" height="19" fill="url(#cyt)"/>
<g transform="translate(290.4,779.6)"><rect x="0" y="0" width="169.90000000000003" height="23" fill="url(#lip)"/></g>
<path d="M299.6 763.4 H352.12 C357.6 763.4 360.6 765.9 360.6 771.9 C360.6 774.9 359.82 775.5 359.82 780.5 M313.8 801.3 V803.5999999999999 C313.8 806.9 306.2 805.9 306.2 810.3 C306.2 813.9 310.8 814.5 315.8 814.6 H324.4 C328.0 814.6 328.0 819.8 324.4 819.8 H296 M313.8 780.5 C313.8 771.1 321.47 771.1 321.47 780.5 M329.14 780.5 C329.14 771.1 336.81 771.1 336.81 780.5 M344.48 780.5 C344.48 771.1 352.15 771.1 352.15 780.5 M321.47 801.3 C321.47 810.7 329.14 810.7 329.14 801.3 M336.81 801.3 C336.81 810.7 344.48 810.7 344.48 801.3 M352.15 801.3 C352.15 810.7 359.82 810.7 359.82 801.3 " fill="none" stroke="#f7941d" stroke-width="1.9" stroke-linecap="round" stroke-linejoin="round"/>
<rect x="311.0" y="778.5" width="5.6" height="24.799999999999955" rx="2.8" ry="2.8" fill="url(#hO)" stroke="#d41b12" stroke-width="1.4"/>
<rect x="318.67" y="778.5" width="5.6" height="24.799999999999955" rx="2.8" ry="2.8" fill="url(#hO)" stroke="#d41b12" stroke-width="1.4"/>
<rect x="326.34" y="778.5" width="5.6" height="24.799999999999955" rx="2.8" ry="2.8" fill="url(#hO)" stroke="#d41b12" stroke-width="1.4"/>
<rect x="334.01" y="778.5" width="5.6" height="24.799999999999955" rx="2.8" ry="2.8" fill="url(#hO)" stroke="#d41b12" stroke-width="1.4"/>
<rect x="341.68" y="778.5" width="5.6" height="24.799999999999955" rx="2.8" ry="2.8" fill="url(#hO)" stroke="#d41b12" stroke-width="1.4"/>
<rect x="349.34999999999997" y="778.5" width="5.6" height="24.799999999999955" rx="2.8" ry="2.8" fill="url(#hO)" stroke="#d41b12" stroke-width="1.4"/>
<rect x="357.02" y="778.5" width="5.6" height="24.799999999999955" rx="2.8" ry="2.8" fill="url(#hO)" stroke="#d41b12" stroke-width="1.4"/>
<text x="284.0" y="767.2" font-size="12.2" text-anchor="start" font-weight="normal" fill="#111" ><tspan>N-</tspan></text>
<text x="281.2" y="823.3" font-size="12.2" text-anchor="start" font-weight="normal" fill="#111" ><tspan>C-</tspan></text>
<path d="M368.5 785.1 H379.79999999999995 V783.3 L385.4 786.4 L379.79999999999995 789.5 V787.6999999999999 H368.5 Z" fill="#5f5f5f"/>
<path d="M385.4 793.6 H374.1 V791.8 L368.5 794.9 L374.1 798.0 V796.1999999999999 H385.4 Z" fill="#5f5f5f"/>
<path d="M453.5 763.4 H400.3 C394.8 763.4 391.8 765.9 391.8 771.9 C391.8 774.9 392.6 775.5 392.6 780.5 M438.62 801.3 V803.5999999999999 C438.62 806.9 446.2 805.9 446.2 810.3 C446.2 813.9 441.6 814.5 436.6 814.6 H428.0 C424.4 814.6 424.4 819.8 428.0 819.8 H457 M400.27 780.5 C400.27 771.1 407.94 771.1 407.94 780.5 M415.61 780.5 C415.61 771.1 423.28 771.1 423.28 780.5 M430.95 780.5 C430.95 771.1 438.62 771.1 438.62 780.5 M392.6 801.3 C392.6 810.7 400.27 810.7 400.27 801.3 M407.94 801.3 C407.94 810.7 415.61 810.7 415.61 801.3 M423.28 801.3 C423.28 810.7 430.95 810.7 430.95 801.3 " fill="none" stroke="#f7941d" stroke-width="1.9" stroke-linecap="round" stroke-linejoin="round"/>
<rect x="389.8" y="778.5" width="5.6" height="24.799999999999955" rx="2.8" ry="2.8" fill="url(#hO)" stroke="#d41b12" stroke-width="1.4"/>
<rect x="397.46999999999997" y="778.5" width="5.6" height="24.799999999999955" rx="2.8" ry="2.8" fill="url(#hO)" stroke="#d41b12" stroke-width="1.4"/>
<rect x="405.14" y="778.5" width="5.6" height="24.799999999999955" rx="2.8" ry="2.8" fill="url(#hO)" stroke="#d41b12" stroke-width="1.4"/>
<rect x="412.81" y="778.5" width="5.6" height="24.799999999999955" rx="2.8" ry="2.8" fill="url(#hO)" stroke="#d41b12" stroke-width="1.4"/>
<rect x="420.47999999999996" y="778.5" width="5.6" height="24.799999999999955" rx="2.8" ry="2.8" fill="url(#hO)" stroke="#d41b12" stroke-width="1.4"/>
<rect x="428.15" y="778.5" width="5.6" height="24.799999999999955" rx="2.8" ry="2.8" fill="url(#hO)" stroke="#d41b12" stroke-width="1.4"/>
<rect x="435.82" y="778.5" width="5.6" height="24.799999999999955" rx="2.8" ry="2.8" fill="url(#hO)" stroke="#d41b12" stroke-width="1.4"/>
<text x="464.5" y="794.8" font-size="14.5" text-anchor="start" font-weight="normal" fill="#666" ><tspan>or</tspan></text>
<rect x="482.3" y="802.4" width="170.99999999999994" height="19" fill="url(#cyt)"/>
<g transform="translate(482.3,779.6)"><rect x="0" y="0" width="170.99999999999994" height="23" fill="url(#lip)"/></g>
<path d="M489.9 763.4 H542.92 C548.4 763.4 551.4 765.9 551.4 771.9 C551.4 774.9 550.62 775.5 550.62 780.5 M504.6 801.3 V803.5999999999999 C504.6 806.9 497.0 805.9 497.0 810.3 C497.0 813.9 501.6 814.5 506.6 814.6 H515.2 C518.8 814.6 518.8 819.8 515.2 819.8 H486 M504.6 780.5 C504.6 771.1 512.27 771.1 512.27 780.5 M519.94 780.5 C519.94 771.1 527.61 771.1 527.61 780.5 M535.28 780.5 C535.28 771.1 542.95 771.1 542.95 780.5 M512.27 801.3 C512.27 810.7 519.94 810.7 519.94 801.3 M527.61 801.3 C527.61 810.7 535.28 810.7 535.28 801.3 M542.95 801.3 C542.95 810.7 550.62 810.7 550.62 801.3 " fill="none" stroke="#1172c9" stroke-width="1.9" stroke-linecap="round" stroke-linejoin="round"/>
<rect x="501.8" y="778.5" width="5.6" height="24.799999999999955" rx="2.8" ry="2.8" fill="url(#hB)" stroke="#1a5ca8" stroke-width="1.4"/>
<rect x="509.46999999999997" y="778.5" width="5.6" height="24.799999999999955" rx="2.8" ry="2.8" fill="url(#hB)" stroke="#1a5ca8" stroke-width="1.4"/>
<rect x="517.1400000000001" y="778.5" width="5.6" height="24.799999999999955" rx="2.8" ry="2.8" fill="url(#hB)" stroke="#1a5ca8" stroke-width="1.4"/>
<rect x="524.8100000000001" y="778.5" width="5.6" height="24.799999999999955" rx="2.8" ry="2.8" fill="url(#hB)" stroke="#1a5ca8" stroke-width="1.4"/>
<rect x="532.48" y="778.5" width="5.6" height="24.799999999999955" rx="2.8" ry="2.8" fill="url(#hB)" stroke="#1a5ca8" stroke-width="1.4"/>
<rect x="540.1500000000001" y="778.5" width="5.6" height="24.799999999999955" rx="2.8" ry="2.8" fill="url(#hB)" stroke="#1a5ca8" stroke-width="1.4"/>
<rect x="547.82" y="778.5" width="5.6" height="24.799999999999955" rx="2.8" ry="2.8" fill="url(#hB)" stroke="#1a5ca8" stroke-width="1.4"/>
<path d="M559 785.1 H571.1 V783.3 L576.7 786.4 L571.1 789.5 V787.6999999999999 H559 Z" fill="#5f5f5f"/>
<path d="M576.7 793.6 H564.6 V791.8 L559 794.9 L564.6 798.0 V796.1999999999999 H576.7 Z" fill="#5f5f5f"/>
<path d="M644.7 763.4 H591.1 C585.6 763.4 582.6 765.9 582.6 771.9 C582.6 774.9 583.4 775.5 583.4 780.5 M629.42 801.3 V803.5999999999999 C629.42 806.9 637.0 805.9 637.0 810.3 C637.0 813.9 632.4 814.5 627.4 814.6 H618.8 C615.2 814.6 615.2 819.8 618.8 819.8 H648.4 M591.07 780.5 C591.07 771.1 598.74 771.1 598.74 780.5 M606.41 780.5 C606.41 771.1 614.08 771.1 614.08 780.5 M621.75 780.5 C621.75 771.1 629.42 771.1 629.42 780.5 M583.4 801.3 C583.4 810.7 591.07 810.7 591.07 801.3 M598.74 801.3 C598.74 810.7 606.41 810.7 606.41 801.3 M614.08 801.3 C614.08 810.7 621.75 810.7 621.75 801.3 " fill="none" stroke="#1172c9" stroke-width="1.9" stroke-linecap="round" stroke-linejoin="round"/>
<rect x="580.6" y="778.5" width="5.6" height="24.799999999999955" rx="2.8" ry="2.8" fill="url(#hB)" stroke="#1a5ca8" stroke-width="1.4"/>
<rect x="588.2700000000001" y="778.5" width="5.6" height="24.799999999999955" rx="2.8" ry="2.8" fill="url(#hB)" stroke="#1a5ca8" stroke-width="1.4"/>
<rect x="595.94" y="778.5" width="5.6" height="24.799999999999955" rx="2.8" ry="2.8" fill="url(#hB)" stroke="#1a5ca8" stroke-width="1.4"/>
<rect x="603.61" y="778.5" width="5.6" height="24.799999999999955" rx="2.8" ry="2.8" fill="url(#hB)" stroke="#1a5ca8" stroke-width="1.4"/>
<rect x="611.2800000000001" y="778.5" width="5.6" height="24.799999999999955" rx="2.8" ry="2.8" fill="url(#hB)" stroke="#1a5ca8" stroke-width="1.4"/>
<rect x="618.95" y="778.5" width="5.6" height="24.799999999999955" rx="2.8" ry="2.8" fill="url(#hB)" stroke="#1a5ca8" stroke-width="1.4"/>
<rect x="626.62" y="778.5" width="5.6" height="24.799999999999955" rx="2.8" ry="2.8" fill="url(#hB)" stroke="#1a5ca8" stroke-width="1.4"/>
<rect x="21.2" y="847.1" width="298.8" height="148.0" fill="#fff" stroke="#111" stroke-width="1.8"/>
<path d="M129.4 847.1 V998.4" stroke="#111" stroke-width="1.7"/>
<path d="M156.2 995.1 V1003.7" stroke="#111" stroke-width="1.6"/>
<text x="156.2" y="1017.9" font-size="16.4" text-anchor="middle" font-weight="normal" fill="#111" ><tspan>1</tspan></text>
<path d="M210.6 995.1 V1003.7" stroke="#111" stroke-width="1.6"/>
<text x="210.6" y="1017.9" font-size="16.4" text-anchor="middle" font-weight="normal" fill="#111" ><tspan>2</tspan></text>
<path d="M265.0 995.1 V1003.7" stroke="#111" stroke-width="1.6"/>
<text x="265.0" y="1017.9" font-size="16.4" text-anchor="middle" font-weight="normal" fill="#111" ><tspan>3</tspan></text>
<path d="M319.4 995.1 V1003.7" stroke="#111" stroke-width="1.6"/>
<text x="319.4" y="1017.9" font-size="16.4" text-anchor="middle" font-weight="normal" fill="#111" ><tspan>4</tspan></text>
<path d="M183.4 995.1 V998.5" stroke="#111" stroke-width="1.4"/>
<path d="M237.8 995.1 V998.5" stroke="#111" stroke-width="1.4"/>
<path d="M292.2 995.1 V998.5" stroke="#111" stroke-width="1.4"/>
<text x="233.5" y="1035.6" font-size="16.4" text-anchor="middle" font-weight="normal" fill="#111" ><tspan>Colocalization index</tspan></text>
<text x="74.8" y="862.4" font-size="13.6" text-anchor="middle" font-weight="normal" fill="#111" ><tspan>+ Peptide</tspan></text>
<text x="135.6" y="862.4" font-size="13.75" text-anchor="start" font-weight="normal" fill="#111" ><tspan fill="#ff1a6c">MOR-MOR</tspan><tspan fill="#111"> homodimerization</tspan></text>
<text x="124.4" y="886.9" font-size="13.7" text-anchor="end" font-weight="normal" fill="#111" ><tspan fill="#111">Control</tspan></text>
<text x="124.4" y="912.5" font-size="13.7" text-anchor="end" font-weight="normal" fill="#111" ><tspan fill="#111">Dpep(20-24)DM</tspan></text>
<text x="124.4" y="937.8" font-size="13.7" text-anchor="end" font-weight="normal" fill="#111" ><tspan fill="#111">TM1</tspan><tspan fill="#111" font-size="8.22" dy="-4.52">MOR</tspan></text>
<text x="124.4" y="961.8" font-size="13.7" text-anchor="end" font-weight="normal" fill="#111" ><tspan fill="#111">Nterm-TM1</tspan><tspan fill="#111" font-size="8.22" dy="-4.52">DOR</tspan></text>
<text x="124.4" y="985.8" font-size="13.7" text-anchor="end" font-weight="normal" fill="#111" ><tspan fill="#111">TM</tspan><tspan fill="#111" font-size="8.22" dy="-4.52">LDLR</tspan></text>
<g fill="#b9b9b9"><circle cx="180.3" cy="889.0" r="1.7"/><circle cx="210.3" cy="882.1" r="1.7"/><circle cx="180.3" cy="877.8" r="1.7"/><circle cx="200.3" cy="882.8" r="1.7"/><circle cx="180.3" cy="876.5" r="1.7"/><circle cx="180.3" cy="879.6" r="1.7"/><circle cx="225.3" cy="885.5" r="1.7"/><circle cx="223.9" cy="875.7" r="1.7"/><circle cx="225.3" cy="884.9" r="1.7"/><circle cx="195.3" cy="884.3" r="1.7"/><circle cx="203.9" cy="883.0" r="1.7"/><circle cx="205.1" cy="875.9" r="1.7"/><circle cx="207.9" cy="875.5" r="1.7"/><circle cx="217.4" cy="882.1" r="1.7"/><circle cx="180.3" cy="882.9" r="1.7"/><circle cx="217.6" cy="884.7" r="1.7"/><circle cx="180.3" cy="882.0" r="1.7"/><circle cx="174.0" cy="884.6" r="1.7"/><circle cx="279.5" cy="882.6" r="1.7"/><circle cx="231.0" cy="884.6" r="1.7"/></g>
<path d="M180.3 882.6 H185.3 M215.3 882.6 H225.3 M180.3 878.3000000000001 V886.9 M225.3 878.3000000000001 V886.9" stroke="#7d7d7d" stroke-width="1.3" fill="none"/>
<rect x="185.3" y="873.6" width="30.0" height="18" fill="none" stroke="#7d7d7d" stroke-width="1.3"/>
<path d="M201.8 874.0 V891.2" stroke="#ff45a4" stroke-width="3.6" stroke-linecap="round"/>
<g fill="#b9b9b9"><circle cx="199.3" cy="904.2" r="1.7"/><circle cx="219.3" cy="912.7" r="1.7"/><circle cx="198.3" cy="910.7" r="1.7"/><circle cx="193.1" cy="904.4" r="1.7"/><circle cx="213.5" cy="901.1" r="1.7"/><circle cx="201.5" cy="912.8" r="1.7"/><circle cx="177.8" cy="905.9" r="1.7"/><circle cx="219.3" cy="900.0" r="1.7"/><circle cx="188.5" cy="903.2" r="1.7"/><circle cx="219.3" cy="914.9" r="1.7"/><circle cx="186.4" cy="906.0" r="1.7"/><circle cx="219.3" cy="911.8" r="1.7"/><circle cx="212.6" cy="904.1" r="1.7"/><circle cx="215.7" cy="914.6" r="1.7"/><circle cx="209.3" cy="911.5" r="1.7"/><circle cx="211.2" cy="901.6" r="1.7"/><circle cx="210.2" cy="900.9" r="1.7"/><circle cx="226.0" cy="905.6" r="1.7"/><circle cx="232.0" cy="907.6" r="1.7"/><circle cx="172.0" cy="910.6" r="1.7"/></g>
<path d="M175.3 907.6 H184.3 M212.8 907.6 H219.3 M175.3 903.3000000000001 V911.9 M219.3 903.3000000000001 V911.9" stroke="#7d7d7d" stroke-width="1.3" fill="none"/>
<rect x="184.3" y="898.6" width="28.5" height="18" fill="none" stroke="#7d7d7d" stroke-width="1.3"/>
<path d="M199.3 899.0 V916.2" stroke="#ff45a4" stroke-width="3.6" stroke-linecap="round"/>
<g fill="#b9b9b9"><circle cx="182.6" cy="933.5" r="1.7"/><circle cx="166.4" cy="931.8" r="1.7"/><circle cx="191.0" cy="927.0" r="1.7"/><circle cx="199.3" cy="934.8" r="1.7"/><circle cx="194.9" cy="928.3" r="1.7"/><circle cx="193.3" cy="929.1" r="1.7"/><circle cx="199.3" cy="929.6" r="1.7"/><circle cx="172.0" cy="938.4" r="1.7"/><circle cx="183.9" cy="938.0" r="1.7"/><circle cx="198.9" cy="934.7" r="1.7"/><circle cx="199.3" cy="928.3" r="1.7"/><circle cx="199.3" cy="928.9" r="1.7"/><circle cx="181.4" cy="929.5" r="1.7"/><circle cx="162.0" cy="926.1" r="1.7"/><circle cx="199.3" cy="928.7" r="1.7"/><circle cx="193.5" cy="934.1" r="1.7"/><circle cx="163.1" cy="939.5" r="1.7"/><circle cx="150.5" cy="929.6" r="1.7"/><circle cx="153.0" cy="936.6" r="1.7"/><circle cx="206.0" cy="932.6" r="1.7"/></g>
<path d="M162.0 932.6 H163.7 M191.3 932.6 H199.3 M162.0 928.3000000000001 V936.9 M199.3 928.3000000000001 V936.9" stroke="#7d7d7d" stroke-width="1.3" fill="none"/>
<rect x="163.7" y="923.6" width="27.6" height="18" fill="none" stroke="#7d7d7d" stroke-width="1.3"/>
<path d="M178.8 924.0 V941.2" stroke="#ff45a4" stroke-width="3.6" stroke-linecap="round"/>
<g fill="#b9b9b9"><circle cx="187.8" cy="957.5" r="1.7"/><circle cx="161.7" cy="952.9" r="1.7"/><circle cx="164.2" cy="952.5" r="1.7"/><circle cx="194.3" cy="953.9" r="1.7"/><circle cx="162.9" cy="953.0" r="1.7"/><circle cx="174.6" cy="953.1" r="1.7"/><circle cx="161.7" cy="964.5" r="1.7"/><circle cx="190.7" cy="956.5" r="1.7"/><circle cx="164.1" cy="951.7" r="1.7"/><circle cx="194.3" cy="953.7" r="1.7"/><circle cx="185.4" cy="960.8" r="1.7"/><circle cx="175.7" cy="959.2" r="1.7"/><circle cx="194.3" cy="954.6" r="1.7"/><circle cx="186.8" cy="951.2" r="1.7"/><circle cx="194.3" cy="953.6" r="1.7"/><circle cx="161.7" cy="959.4" r="1.7"/><circle cx="166.9" cy="954.4" r="1.7"/><circle cx="155.0" cy="960.7" r="1.7"/><circle cx="157.5" cy="955.7" r="1.7"/><circle cx="198.0" cy="957.7" r="1.7"/></g>
<path d="M161.7 957.7 H167.8 M186.3 957.7 H194.3 M161.7 953.4000000000001 V962.0 M194.3 953.4000000000001 V962.0" stroke="#7d7d7d" stroke-width="1.3" fill="none"/>
<rect x="167.8" y="948.7" width="18.5" height="18" fill="none" stroke="#7d7d7d" stroke-width="1.3"/>
<path d="M176.8 949.1 V966.3000000000001" stroke="#ff45a4" stroke-width="3.6" stroke-linecap="round"/>
<g fill="#b9b9b9"><circle cx="216.4" cy="975.4" r="1.7"/><circle cx="195.0" cy="979.2" r="1.7"/><circle cx="195.1" cy="977.8" r="1.7"/><circle cx="205.5" cy="980.7" r="1.7"/><circle cx="191.7" cy="980.6" r="1.7"/><circle cx="197.4" cy="988.6" r="1.7"/><circle cx="225.3" cy="985.6" r="1.7"/><circle cx="198.6" cy="984.0" r="1.7"/><circle cx="206.8" cy="975.4" r="1.7"/><circle cx="207.6" cy="988.9" r="1.7"/><circle cx="184.7" cy="975.5" r="1.7"/><circle cx="172.8" cy="984.8" r="1.7"/><circle cx="172.8" cy="980.0" r="1.7"/><circle cx="207.0" cy="990.3" r="1.7"/><circle cx="225.3" cy="986.3" r="1.7"/><circle cx="216.1" cy="988.8" r="1.7"/><circle cx="199.9" cy="987.1" r="1.7"/><circle cx="168.0" cy="982.7" r="1.7"/><circle cx="227.0" cy="979.7" r="1.7"/></g>
<path d="M172.8 982.7 H189.3 M220.3 982.7 H225.3 M172.8 978.4000000000001 V987.0 M225.3 978.4000000000001 V987.0" stroke="#7d7d7d" stroke-width="1.3" fill="none"/>
<rect x="189.3" y="973.7" width="31.0" height="18" fill="none" stroke="#7d7d7d" stroke-width="1.3"/>
<path d="M202.8 974.1 V991.3000000000001" stroke="#ff45a4" stroke-width="3.6" stroke-linecap="round"/>
<path d="M265.2 883.2 V932.6 M269 883.2 V957.7 M296.5 883.2 V909 M301 883.2 V982.7" stroke="#666" stroke-width="1.5" fill="none"/>
<text transform="translate(304.0,890.3) rotate(90)" font-size="14.4" fill="#111">ns</text>
<text x="273.9" y="907.8" font-size="24" text-anchor="middle" font-weight="normal" fill="#111" ><tspan>*</tspan></text>
<rect x="354.7" y="847.1" width="299.2" height="148.0" fill="#fff" stroke="#111" stroke-width="1.8"/>
<path d="M462.8 847.1 V998.4" stroke="#111" stroke-width="1.7"/>
<path d="M490.3 995.1 V1003.7" stroke="#111" stroke-width="1.6"/>
<text x="490.3" y="1017.9" font-size="16.4" text-anchor="middle" font-weight="normal" fill="#111" ><tspan>1</tspan></text>
<path d="M544.7 995.1 V1003.7" stroke="#111" stroke-width="1.6"/>
<text x="544.7" y="1017.9" font-size="16.4" text-anchor="middle" font-weight="normal" fill="#111" ><tspan>2</tspan></text>
<path d="M599.1 995.1 V1003.7" stroke="#111" stroke-width="1.6"/>
<text x="599.1" y="1017.9" font-size="16.4" text-anchor="middle" font-weight="normal" fill="#111" ><tspan>3</tspan></text>
<path d="M653.5 995.1 V1003.7" stroke="#111" stroke-width="1.6"/>
<text x="653.5" y="1017.9" font-size="16.4" text-anchor="middle" font-weight="normal" fill="#111" ><tspan>4</tspan></text>
<path d="M517.5 995.1 V998.5" stroke="#111" stroke-width="1.4"/>
<path d="M571.9 995.1 V998.5" stroke="#111" stroke-width="1.4"/>
<path d="M626.3 995.1 V998.5" stroke="#111" stroke-width="1.4"/>
<text x="570" y="1035.6" font-size="16.4" text-anchor="middle" font-weight="normal" fill="#111" ><tspan>Colocalization index</tspan></text>
<text x="408.6" y="862.4" font-size="13.6" text-anchor="middle" font-weight="normal" fill="#111" ><tspan>+ Peptide</tspan></text>
<text x="468.8" y="862.4" font-size="13.75" text-anchor="start" font-weight="normal" fill="#111" ><tspan fill="#1a1aff">DOR-DOR</tspan><tspan fill="#111"> homodimerization</tspan></text>
<text x="458.1" y="886.9" font-size="13.7" text-anchor="end" font-weight="normal" fill="#111" ><tspan fill="#111">Control</tspan></text>
<text x="458.1" y="912.5" font-size="13.7" text-anchor="end" font-weight="normal" fill="#111" ><tspan fill="#111">Dpep(20-24)DM</tspan></text>
<text x="458.1" y="937.8" font-size="13.7" text-anchor="end" font-weight="normal" fill="#111" ><tspan fill="#111">TM1</tspan><tspan fill="#111" font-size="8.22" dy="-4.52">MOR</tspan></text>
<text x="458.1" y="961.8" font-size="13.7" text-anchor="end" font-weight="normal" fill="#111" ><tspan fill="#111">Nterm-TM1</tspan><tspan fill="#111" font-size="8.22" dy="-4.52">DOR</tspan></text>
<text x="458.1" y="985.8" font-size="13.7" text-anchor="end" font-weight="normal" fill="#111" ><tspan fill="#111">TM</tspan><tspan fill="#111" font-size="8.22" dy="-4.52">LDLR</tspan></text>
<g fill="#b9b9b9"><circle cx="568.7" cy="888.5" r="1.7"/><circle cx="517.7" cy="876.3" r="1.7"/><circle cx="517.9" cy="883.1" r="1.7"/><circle cx="525.1" cy="877.0" r="1.7"/><circle cx="547.8" cy="878.4" r="1.7"/><circle cx="562.6" cy="881.9" r="1.7"/><circle cx="548.6" cy="885.8" r="1.7"/><circle cx="540.3" cy="881.4" r="1.7"/><circle cx="517.7" cy="880.5" r="1.7"/><circle cx="535.7" cy="875.9" r="1.7"/><circle cx="545.2" cy="885.0" r="1.7"/><circle cx="517.7" cy="884.4" r="1.7"/><circle cx="560.8" cy="886.5" r="1.7"/><circle cx="534.6" cy="880.6" r="1.7"/><circle cx="517.7" cy="879.8" r="1.7"/><circle cx="523.5" cy="876.3" r="1.7"/><circle cx="517.7" cy="884.0" r="1.7"/><circle cx="513.0" cy="879.6" r="1.7"/><circle cx="576.5" cy="884.6" r="1.7"/></g>
<path d="M517.7 882.6 H521.2 M552.7 882.6 H568.7 M517.7 878.3000000000001 V886.9 M568.7 878.3000000000001 V886.9" stroke="#7d7d7d" stroke-width="1.3" fill="none"/>
<rect x="521.2" y="873.6" width="31.5" height="18" fill="none" stroke="#7d7d7d" stroke-width="1.3"/>
<path d="M538.7 874.0 V891.2" stroke="#ff45a4" stroke-width="3.6" stroke-linecap="round"/>
<g fill="#b9b9b9"><circle cx="536.8" cy="906.8" r="1.7"/><circle cx="523.8" cy="902.7" r="1.7"/><circle cx="521.9" cy="904.9" r="1.7"/><circle cx="537.0" cy="901.8" r="1.7"/><circle cx="519.7" cy="901.5" r="1.7"/><circle cx="547.2" cy="908.7" r="1.7"/><circle cx="535.6" cy="912.4" r="1.7"/><circle cx="522.4" cy="904.4" r="1.7"/><circle cx="548.4" cy="904.6" r="1.7"/><circle cx="536.0" cy="903.9" r="1.7"/><circle cx="507.8" cy="901.7" r="1.7"/><circle cx="538.3" cy="912.6" r="1.7"/><circle cx="507.8" cy="903.6" r="1.7"/><circle cx="507.8" cy="909.0" r="1.7"/><circle cx="519.1" cy="914.3" r="1.7"/><circle cx="550.2" cy="900.9" r="1.7"/><circle cx="550.2" cy="906.3" r="1.7"/><circle cx="504.5" cy="909.6" r="1.7"/><circle cx="559.0" cy="907.6" r="1.7"/></g>
<path d="M507.8 907.6 H517.7 M544.2 907.6 H550.2 M507.8 903.3000000000001 V911.9 M550.2 903.3000000000001 V911.9" stroke="#7d7d7d" stroke-width="1.3" fill="none"/>
<rect x="517.7" y="898.6" width="26.5" height="18" fill="none" stroke="#7d7d7d" stroke-width="1.3"/>
<path d="M531.7 899.0 V916.2" stroke="#ff45a4" stroke-width="3.6" stroke-linecap="round"/>
<g fill="#b9b9b9"><circle cx="532.7" cy="935.4" r="1.7"/><circle cx="523.6" cy="939.8" r="1.7"/><circle cx="530.7" cy="933.2" r="1.7"/><circle cx="505.3" cy="940.0" r="1.7"/><circle cx="520.1" cy="939.8" r="1.7"/><circle cx="508.4" cy="930.7" r="1.7"/><circle cx="522.0" cy="932.1" r="1.7"/><circle cx="524.9" cy="928.0" r="1.7"/><circle cx="532.7" cy="928.3" r="1.7"/><circle cx="507.5" cy="926.6" r="1.7"/><circle cx="512.6" cy="933.3" r="1.7"/><circle cx="518.8" cy="937.3" r="1.7"/><circle cx="519.9" cy="938.7" r="1.7"/><circle cx="532.7" cy="931.8" r="1.7"/><circle cx="505.4" cy="937.3" r="1.7"/><circle cx="532.7" cy="938.6" r="1.7"/><circle cx="515.2" cy="935.5" r="1.7"/><circle cx="495.0" cy="934.6" r="1.7"/><circle cx="497.5" cy="930.6" r="1.7"/><circle cx="535.0" cy="932.6" r="1.7"/></g>
<path d="M505.3 932.6 H511.7 M528.7 932.6 H532.7 M505.3 928.3000000000001 V936.9 M532.7 928.3000000000001 V936.9" stroke="#7d7d7d" stroke-width="1.3" fill="none"/>
<rect x="511.7" y="923.6" width="17.0" height="18" fill="none" stroke="#7d7d7d" stroke-width="1.3"/>
<path d="M520.2 924.0 V941.2" stroke="#ff45a4" stroke-width="3.6" stroke-linecap="round"/>
<g fill="#b9b9b9"><circle cx="507.0" cy="962.7" r="1.7"/><circle cx="511.9" cy="954.6" r="1.7"/><circle cx="511.0" cy="956.3" r="1.7"/><circle cx="518.5" cy="958.5" r="1.7"/><circle cx="503.9" cy="962.6" r="1.7"/><circle cx="527.8" cy="955.2" r="1.7"/><circle cx="525.7" cy="958.6" r="1.7"/><circle cx="520.6" cy="964.5" r="1.7"/><circle cx="510.1" cy="951.3" r="1.7"/><circle cx="505.0" cy="953.7" r="1.7"/><circle cx="511.9" cy="958.6" r="1.7"/><circle cx="505.8" cy="961.0" r="1.7"/><circle cx="518.7" cy="950.2" r="1.7"/><circle cx="504.0" cy="952.3" r="1.7"/><circle cx="529.1" cy="963.3" r="1.7"/><circle cx="521.1" cy="952.8" r="1.7"/><circle cx="530.2" cy="956.9" r="1.7"/><circle cx="489.0" cy="957.7" r="1.7"/><circle cx="555.5" cy="957.7" r="1.7"/><circle cx="533.0" cy="960.7" r="1.7"/></g>
<path d="M502.8 957.7 H510.2 M523.7 957.7 H530.2 M502.8 953.4000000000001 V962.0 M530.2 953.4000000000001 V962.0" stroke="#7d7d7d" stroke-width="1.3" fill="none"/>
<rect x="510.2" y="948.7" width="13.5" height="18" fill="none" stroke="#7d7d7d" stroke-width="1.3"/>
<path d="M516.7 949.1 V966.3000000000001" stroke="#ff45a4" stroke-width="3.6" stroke-linecap="round"/>
<g fill="#b9b9b9"><circle cx="520.1" cy="985.7" r="1.7"/><circle cx="543.2" cy="982.4" r="1.7"/><circle cx="516.0" cy="983.5" r="1.7"/><circle cx="499.3" cy="983.1" r="1.7"/><circle cx="509.1" cy="976.4" r="1.7"/><circle cx="568.7" cy="988.4" r="1.7"/><circle cx="566.9" cy="986.9" r="1.7"/><circle cx="499.3" cy="985.3" r="1.7"/><circle cx="508.1" cy="980.0" r="1.7"/><circle cx="514.2" cy="980.4" r="1.7"/><circle cx="501.5" cy="980.3" r="1.7"/><circle cx="568.7" cy="981.0" r="1.7"/><circle cx="499.3" cy="982.4" r="1.7"/><circle cx="568.7" cy="983.5" r="1.7"/><circle cx="534.1" cy="976.5" r="1.7"/><circle cx="568.5" cy="978.4" r="1.7"/><circle cx="528.2" cy="982.7" r="1.7"/><circle cx="487.5" cy="984.7" r="1.7"/><circle cx="493.0" cy="979.7" r="1.7"/><circle cx="575.0" cy="978.7" r="1.7"/><circle cx="577.0" cy="985.7" r="1.7"/></g>
<path d="M499.3 982.7 H510.2 M565.2 982.7 H568.7 M499.3 978.4000000000001 V987.0 M568.7 978.4000000000001 V987.0" stroke="#7d7d7d" stroke-width="1.3" fill="none"/>
<rect x="510.2" y="973.7" width="55.0" height="18" fill="none" stroke="#7d7d7d" stroke-width="1.3"/>
<path d="M535.2 974.1 V991.3000000000001" stroke="#ff45a4" stroke-width="3.6" stroke-linecap="round"/>
<path d="M599 883.2 V932.6 M602.9 883.2 V957.7 M630.2 883.2 V909 M634.6 883.2 V982.7" stroke="#666" stroke-width="1.5" fill="none"/>
<text transform="translate(637.6,890.3) rotate(90)" font-size="14.4" fill="#111">ns</text>
<text x="608.0" y="907.9" font-size="24" text-anchor="middle" font-weight="normal" fill="#111" ><tspan>*</tspan></text>
</svg></body></html>
